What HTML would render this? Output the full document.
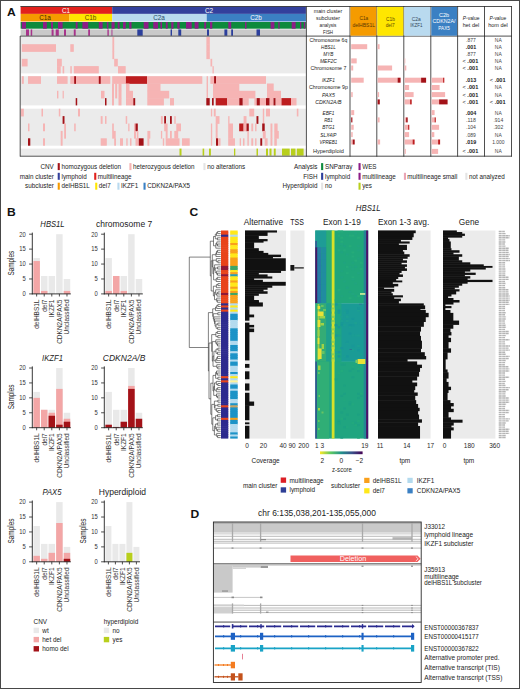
<!DOCTYPE html>
<html><head><meta charset="utf-8"><title>Figure</title>
<style>
html,body{margin:0;padding:0;background:#fff;}
body{width:520px;height:689px;overflow:hidden;position:relative;}
svg{position:absolute;left:0;top:0;display:block;font-family:"Liberation Sans",sans-serif;}
#frame{position:absolute;left:0;top:0;width:518px;height:687px;border:1px solid #484848;}
</style></head><body>
<svg width="520" height="689" viewBox="0 0 520 689" shape-rendering="auto">
<rect x="20.60" y="6.60" width="91.60" height="7.30" fill="#e2211c"/>
<rect x="112.20" y="6.60" width="193.70" height="7.30" fill="#33409c"/>
<rect x="20.60" y="13.90" width="48.90" height="7.60" fill="#f59b00"/>
<rect x="69.50" y="13.90" width="42.70" height="7.60" fill="#ffe600"/>
<rect x="112.20" y="13.90" width="94.50" height="7.60" fill="#b9daef"/>
<rect x="206.70" y="13.90" width="99.20" height="7.60" fill="#3b80c3"/>
<text x="66.00" y="12.50" font-size="6.4" text-anchor="middle" fill="#fff" font-weight="normal" font-style="normal">C1</text>
<text x="209.00" y="12.50" font-size="6.4" text-anchor="middle" fill="#fff" font-weight="normal" font-style="normal">C2</text>
<text x="45.00" y="19.90" font-size="6.4" text-anchor="middle" fill="#3a2a00" font-weight="normal" font-style="normal">C1a</text>
<text x="90.50" y="19.90" font-size="6.4" text-anchor="middle" fill="#5a4a00" font-weight="normal" font-style="normal">C1b</text>
<text x="159.00" y="19.90" font-size="6.4" text-anchor="middle" fill="#2a4a6a" font-weight="normal" font-style="normal">C2a</text>
<text x="256.00" y="19.90" font-size="6.4" text-anchor="middle" fill="#fff" font-weight="normal" font-style="normal">C2b</text>
<rect x="20.60" y="22.00" width="285.30" height="6.70" fill="#0d8a3c"/>
<rect x="21.80" y="22.00" width="4.20" height="6.70" fill="#8c1d87"/>
<rect x="43.00" y="22.00" width="3.80" height="6.70" fill="#8c1d87"/>
<rect x="51.00" y="22.00" width="2.00" height="6.70" fill="#8c1d87"/>
<rect x="58.00" y="22.00" width="4.60" height="6.70" fill="#8c1d87"/>
<rect x="75.70" y="22.00" width="1.90" height="6.70" fill="#8c1d87"/>
<rect x="82.40" y="22.00" width="5.80" height="6.70" fill="#8c1d87"/>
<rect x="98.80" y="22.00" width="3.80" height="6.70" fill="#8c1d87"/>
<rect x="106.80" y="22.00" width="1.60" height="6.70" fill="#8c1d87"/>
<rect x="111.50" y="22.00" width="3.10" height="6.70" fill="#8c1d87"/>
<rect x="117.70" y="22.00" width="1.90" height="6.70" fill="#8c1d87"/>
<rect x="123.00" y="22.00" width="2.80" height="6.70" fill="#8c1d87"/>
<rect x="129.20" y="22.00" width="2.30" height="6.70" fill="#8c1d87"/>
<rect x="143.70" y="22.00" width="4.80" height="6.70" fill="#8c1d87"/>
<rect x="153.30" y="22.00" width="4.70" height="6.70" fill="#8c1d87"/>
<rect x="160.40" y="22.00" width="1.60" height="6.70" fill="#8c1d87"/>
<rect x="165.80" y="22.00" width="1.90" height="6.70" fill="#8c1d87"/>
<rect x="171.20" y="22.00" width="2.30" height="6.70" fill="#8c1d87"/>
<rect x="177.30" y="22.00" width="2.30" height="6.70" fill="#8c1d87"/>
<rect x="186.00" y="22.00" width="5.70" height="6.70" fill="#8c1d87"/>
<rect x="194.60" y="22.00" width="3.90" height="6.70" fill="#8c1d87"/>
<rect x="204.20" y="22.00" width="2.00" height="6.70" fill="#8c1d87"/>
<rect x="210.00" y="22.00" width="2.30" height="6.70" fill="#8c1d87"/>
<rect x="228.30" y="22.00" width="2.90" height="6.70" fill="#8c1d87"/>
<rect x="245.00" y="22.00" width="1.50" height="6.70" fill="#8c1d87"/>
<rect x="270.60" y="22.00" width="3.80" height="6.70" fill="#8c1d87"/>
<rect x="278.30" y="22.00" width="1.30" height="6.70" fill="#8c1d87"/>
<rect x="291.70" y="22.00" width="3.90" height="6.70" fill="#8c1d87"/>
<rect x="300.00" y="22.00" width="1.30" height="6.70" fill="#8c1d87"/>
<rect x="303.80" y="22.00" width="1.40" height="6.70" fill="#8c1d87"/>
<rect x="20.60" y="29.40" width="285.30" height="6.30" fill="#c9c9c9"/>
<rect x="26.00" y="29.40" width="3.00" height="6.30" fill="#a8348c"/>
<rect x="30.70" y="29.40" width="1.50" height="6.30" fill="#a8348c"/>
<rect x="51.60" y="29.40" width="2.00" height="6.30" fill="#a8348c"/>
<rect x="55.70" y="29.40" width="3.10" height="6.30" fill="#a8348c"/>
<rect x="64.00" y="29.40" width="2.00" height="6.30" fill="#a8348c"/>
<rect x="73.80" y="29.40" width="1.90" height="6.30" fill="#a8348c"/>
<rect x="88.20" y="29.40" width="1.80" height="6.30" fill="#a8348c"/>
<rect x="107.40" y="29.40" width="1.40" height="6.30" fill="#a8348c"/>
<rect x="111.50" y="29.40" width="0.90" height="6.30" fill="#a8348c"/>
<rect x="137.30" y="29.40" width="5.40" height="6.30" fill="#2c3f9c"/>
<rect x="170.60" y="29.40" width="1.40" height="6.30" fill="#2c3f9c"/>
<rect x="178.30" y="29.40" width="2.90" height="6.30" fill="#2c3f9c"/>
<rect x="207.00" y="29.40" width="2.00" height="6.30" fill="#2c3f9c"/>
<rect x="224.40" y="29.40" width="2.90" height="6.30" fill="#2c3f9c"/>
<rect x="231.20" y="29.40" width="1.80" height="6.30" fill="#2c3f9c"/>
<rect x="256.50" y="29.40" width="3.50" height="6.30" fill="#2c3f9c"/>
<rect x="20.60" y="36.50" width="285.30" height="36.90" fill="#ebebeb"/>
<rect x="20.60" y="76.20" width="285.30" height="29.20" fill="#ebebeb"/>
<rect x="20.60" y="108.70" width="285.30" height="37.00" fill="#ebebeb"/>
<rect x="20.60" y="148.60" width="285.30" height="7.00" fill="#ebebeb"/>
<rect x="112.40" y="36.90" width="1.80" height="7.65" fill="#f6b4b4"/>
<rect x="206.40" y="36.90" width="3.40" height="7.65" fill="#f6b4b4"/>
<rect x="21.80" y="44.20" width="34.20" height="7.65" fill="#f6b4b4"/>
<rect x="70.30" y="44.20" width="3.50" height="7.65" fill="#f6b4b4"/>
<rect x="112.40" y="44.20" width="1.80" height="7.65" fill="#f6b4b4"/>
<rect x="206.40" y="44.20" width="3.40" height="7.65" fill="#f6b4b4"/>
<rect x="112.40" y="51.50" width="1.80" height="7.65" fill="#f6b4b4"/>
<rect x="206.40" y="51.50" width="3.40" height="7.65" fill="#f6b4b4"/>
<rect x="21.80" y="58.80" width="5.80" height="7.65" fill="#f6b4b4"/>
<rect x="57.00" y="58.80" width="4.80" height="7.65" fill="#f6b4b4"/>
<rect x="114.20" y="58.80" width="3.60" height="7.65" fill="#f6b4b4"/>
<rect x="210.50" y="58.80" width="1.70" height="7.65" fill="#f6b4b4"/>
<rect x="57.00" y="66.10" width="3.70" height="7.30" fill="#f6b4b4"/>
<rect x="62.60" y="66.10" width="1.60" height="7.30" fill="#f6b4b4"/>
<rect x="70.30" y="66.10" width="1.50" height="7.30" fill="#f6b4b4"/>
<rect x="73.80" y="66.10" width="25.00" height="7.30" fill="#f6b4b4"/>
<rect x="118.00" y="66.10" width="7.70" height="7.30" fill="#f6b4b4"/>
<rect x="212.50" y="66.10" width="1.30" height="7.30" fill="#f6b4b4"/>
<rect x="21.80" y="76.20" width="2.00" height="7.65" fill="#f6b4b4"/>
<rect x="28.00" y="76.20" width="13.00" height="7.65" fill="#f6b4b4"/>
<rect x="57.00" y="76.20" width="10.60" height="7.65" fill="#f6b4b4"/>
<rect x="70.30" y="76.20" width="40.00" height="7.65" fill="#f6b4b4"/>
<rect x="74.20" y="76.20" width="1.80" height="7.65" fill="#a31218"/>
<rect x="98.80" y="76.20" width="1.90" height="7.65" fill="#a31218"/>
<rect x="112.20" y="76.20" width="13.70" height="7.65" fill="#f6b4b4"/>
<rect x="125.90" y="76.20" width="21.10" height="7.65" fill="#bd1d1f"/>
<rect x="147.00" y="76.20" width="55.30" height="7.65" fill="#f6b4b4"/>
<rect x="206.60" y="76.20" width="1.40" height="7.65" fill="#f6b4b4"/>
<rect x="210.40" y="76.20" width="55.60" height="7.65" fill="#f6b4b4"/>
<rect x="214.10" y="76.20" width="1.90" height="7.65" fill="#a31218"/>
<rect x="112.00" y="83.50" width="2.00" height="7.65" fill="#f6b4b4"/>
<rect x="115.20" y="83.50" width="2.00" height="7.65" fill="#f6b4b4"/>
<rect x="118.50" y="83.50" width="3.00" height="7.65" fill="#f6b4b4"/>
<rect x="126.00" y="83.50" width="3.50" height="7.65" fill="#f6b4b4"/>
<rect x="147.30" y="83.50" width="13.20" height="7.65" fill="#f6b4b4"/>
<rect x="206.60" y="83.50" width="1.40" height="7.65" fill="#f6b4b4"/>
<rect x="213.00" y="83.50" width="26.30" height="7.65" fill="#f6b4b4"/>
<rect x="267.00" y="83.50" width="6.70" height="7.65" fill="#f6b4b4"/>
<rect x="57.00" y="90.80" width="1.40" height="7.65" fill="#f6b4b4"/>
<rect x="62.60" y="90.80" width="1.20" height="7.65" fill="#f6b4b4"/>
<rect x="101.00" y="90.80" width="3.50" height="7.65" fill="#f6b4b4"/>
<rect x="112.00" y="90.80" width="2.00" height="7.65" fill="#f6b4b4"/>
<rect x="115.20" y="90.80" width="2.00" height="7.65" fill="#f6b4b4"/>
<rect x="118.50" y="90.80" width="3.00" height="7.65" fill="#f6b4b4"/>
<rect x="126.00" y="90.80" width="7.00" height="7.65" fill="#f6b4b4"/>
<rect x="147.30" y="90.80" width="21.90" height="7.65" fill="#f6b4b4"/>
<rect x="206.60" y="90.80" width="1.40" height="7.65" fill="#f6b4b4"/>
<rect x="213.00" y="90.80" width="42.40" height="7.65" fill="#f6b4b4"/>
<rect x="267.00" y="90.80" width="14.00" height="7.65" fill="#f6b4b4"/>
<rect x="75.70" y="98.10" width="1.50" height="7.30" fill="#a31218"/>
<rect x="105.00" y="98.10" width="1.50" height="7.30" fill="#a31218"/>
<rect x="112.00" y="98.10" width="2.00" height="7.30" fill="#f6b4b4"/>
<rect x="118.50" y="98.10" width="3.00" height="7.30" fill="#f6b4b4"/>
<rect x="126.00" y="98.10" width="7.30" height="7.30" fill="#f6b4b4"/>
<rect x="133.30" y="98.10" width="1.90" height="7.30" fill="#a31218"/>
<rect x="147.30" y="98.10" width="16.60" height="7.30" fill="#f6b4b4"/>
<rect x="170.00" y="98.10" width="4.00" height="7.30" fill="#f6b4b4"/>
<rect x="206.30" y="98.10" width="3.40" height="7.30" fill="#a31218"/>
<rect x="212.00" y="98.10" width="1.70" height="7.30" fill="#a31218"/>
<rect x="215.70" y="98.10" width="11.50" height="7.30" fill="#bd1d1f"/>
<rect x="227.20" y="98.10" width="12.10" height="7.30" fill="#f6b4b4"/>
<rect x="239.30" y="98.10" width="3.50" height="7.30" fill="#a31218"/>
<rect x="242.80" y="98.10" width="5.90" height="7.30" fill="#f6b4b4"/>
<rect x="254.40" y="98.10" width="2.30" height="7.30" fill="#f6b4b4"/>
<rect x="256.70" y="98.10" width="3.20" height="7.30" fill="#a31218"/>
<rect x="259.90" y="98.10" width="6.10" height="7.30" fill="#f6b4b4"/>
<rect x="266.00" y="98.10" width="3.70" height="7.30" fill="#a31218"/>
<rect x="269.70" y="98.10" width="3.80" height="7.30" fill="#f6b4b4"/>
<rect x="273.50" y="98.10" width="2.20" height="7.30" fill="#a31218"/>
<rect x="275.70" y="98.10" width="5.80" height="7.30" fill="#f6b4b4"/>
<rect x="281.50" y="98.10" width="9.50" height="7.30" fill="#bd1d1f"/>
<rect x="291.00" y="98.10" width="5.50" height="7.30" fill="#f6b4b4"/>
<rect x="20.90" y="108.70" width="2.90" height="7.75" fill="#f6b4b4"/>
<rect x="41.50" y="108.70" width="1.50" height="7.75" fill="#f6b4b4"/>
<rect x="58.80" y="108.70" width="1.50" height="7.75" fill="#f6b4b4"/>
<rect x="78.00" y="108.70" width="2.00" height="7.75" fill="#f6b4b4"/>
<rect x="210.90" y="108.70" width="1.30" height="7.75" fill="#f6b4b4"/>
<rect x="213.80" y="108.70" width="1.90" height="7.75" fill="#f6b4b4"/>
<rect x="249.30" y="108.70" width="4.90" height="7.75" fill="#f6b4b4"/>
<rect x="262.80" y="108.70" width="1.40" height="7.75" fill="#f6b4b4"/>
<rect x="266.00" y="108.70" width="4.00" height="7.75" fill="#f6b4b4"/>
<rect x="296.80" y="108.70" width="1.60" height="7.75" fill="#f6b4b4"/>
<rect x="62.60" y="116.10" width="1.90" height="7.75" fill="#a31218"/>
<rect x="100.70" y="116.10" width="1.90" height="7.75" fill="#f6b4b4"/>
<rect x="105.00" y="116.10" width="1.50" height="7.75" fill="#f6b4b4"/>
<rect x="125.70" y="116.10" width="1.50" height="7.75" fill="#f6b4b4"/>
<rect x="160.90" y="116.10" width="1.90" height="7.75" fill="#f6b4b4"/>
<rect x="164.20" y="116.10" width="1.80" height="7.75" fill="#a31218"/>
<rect x="170.00" y="116.10" width="1.80" height="7.75" fill="#a31218"/>
<rect x="174.30" y="116.10" width="1.40" height="7.75" fill="#f6b4b4"/>
<rect x="215.70" y="116.10" width="3.80" height="7.75" fill="#f6b4b4"/>
<rect x="228.20" y="116.10" width="1.30" height="7.75" fill="#f6b4b4"/>
<rect x="243.60" y="116.10" width="2.90" height="7.75" fill="#f6b4b4"/>
<rect x="256.50" y="116.10" width="1.90" height="7.75" fill="#a31218"/>
<rect x="262.80" y="116.10" width="1.40" height="7.75" fill="#f6b4b4"/>
<rect x="28.00" y="123.50" width="1.50" height="7.75" fill="#f6b4b4"/>
<rect x="43.00" y="123.50" width="2.00" height="7.75" fill="#f6b4b4"/>
<rect x="64.20" y="123.50" width="1.80" height="7.75" fill="#f6b4b4"/>
<rect x="74.20" y="123.50" width="1.50" height="7.75" fill="#f6b4b4"/>
<rect x="112.20" y="123.50" width="1.60" height="7.75" fill="#f6b4b4"/>
<rect x="128.20" y="123.50" width="1.30" height="7.75" fill="#f6b4b4"/>
<rect x="134.00" y="123.50" width="1.50" height="7.75" fill="#f6b4b4"/>
<rect x="135.50" y="123.50" width="2.30" height="7.75" fill="#a31218"/>
<rect x="164.20" y="123.50" width="3.40" height="7.75" fill="#f6b4b4"/>
<rect x="176.30" y="123.50" width="4.70" height="7.75" fill="#f6b4b4"/>
<rect x="210.90" y="123.50" width="1.30" height="7.75" fill="#f6b4b4"/>
<rect x="215.70" y="123.50" width="1.90" height="7.75" fill="#f6b4b4"/>
<rect x="228.20" y="123.50" width="4.80" height="7.75" fill="#f6b4b4"/>
<rect x="239.20" y="123.50" width="4.40" height="7.75" fill="#bd1d1f"/>
<rect x="243.60" y="123.50" width="2.90" height="7.75" fill="#f6b4b4"/>
<rect x="246.50" y="123.50" width="2.30" height="7.75" fill="#a31218"/>
<rect x="251.30" y="123.50" width="1.90" height="7.75" fill="#f6b4b4"/>
<rect x="255.10" y="123.50" width="1.40" height="7.75" fill="#f6b4b4"/>
<rect x="262.20" y="123.50" width="2.50" height="7.75" fill="#a31218"/>
<rect x="270.50" y="123.50" width="1.90" height="7.75" fill="#f6b4b4"/>
<rect x="274.30" y="123.50" width="3.30" height="7.75" fill="#f6b4b4"/>
<rect x="60.70" y="130.90" width="1.90" height="7.75" fill="#f6b4b4"/>
<rect x="64.20" y="130.90" width="1.80" height="7.75" fill="#f6b4b4"/>
<rect x="112.20" y="130.90" width="3.50" height="7.75" fill="#f6b4b4"/>
<rect x="134.00" y="130.90" width="2.00" height="7.75" fill="#f6b4b4"/>
<rect x="136.80" y="130.90" width="1.60" height="7.75" fill="#f6b4b4"/>
<rect x="147.40" y="130.90" width="2.90" height="7.75" fill="#f6b4b4"/>
<rect x="160.90" y="130.90" width="1.30" height="7.75" fill="#f6b4b4"/>
<rect x="165.70" y="130.90" width="1.90" height="7.75" fill="#f6b4b4"/>
<rect x="170.00" y="130.90" width="1.80" height="7.75" fill="#f6b4b4"/>
<rect x="174.30" y="130.90" width="3.90" height="7.75" fill="#f6b4b4"/>
<rect x="210.90" y="130.90" width="1.30" height="7.75" fill="#f6b4b4"/>
<rect x="215.70" y="130.90" width="1.90" height="7.75" fill="#f6b4b4"/>
<rect x="228.20" y="130.90" width="4.80" height="7.75" fill="#f6b4b4"/>
<rect x="247.40" y="130.90" width="1.40" height="7.75" fill="#f6b4b4"/>
<rect x="262.80" y="130.90" width="2.90" height="7.75" fill="#f6b4b4"/>
<rect x="270.50" y="130.90" width="1.90" height="7.75" fill="#f6b4b4"/>
<rect x="274.30" y="130.90" width="4.50" height="7.75" fill="#f6b4b4"/>
<rect x="28.00" y="138.30" width="2.30" height="7.40" fill="#a31218"/>
<rect x="43.00" y="138.30" width="2.00" height="7.40" fill="#f6b4b4"/>
<rect x="60.70" y="138.30" width="1.90" height="7.40" fill="#f6b4b4"/>
<rect x="100.70" y="138.30" width="6.10" height="7.40" fill="#f6b4b4"/>
<rect x="114.20" y="138.30" width="1.80" height="7.40" fill="#f6b4b4"/>
<rect x="120.00" y="138.30" width="3.00" height="7.40" fill="#f6b4b4"/>
<rect x="126.30" y="138.30" width="1.30" height="7.40" fill="#f6b4b4"/>
<rect x="130.00" y="138.30" width="1.50" height="7.40" fill="#f6b4b4"/>
<rect x="135.50" y="138.30" width="3.30" height="7.40" fill="#f6b4b4"/>
<rect x="138.80" y="138.30" width="4.80" height="7.40" fill="#a31218"/>
<rect x="147.40" y="138.30" width="1.90" height="7.40" fill="#f6b4b4"/>
<rect x="162.80" y="138.30" width="1.40" height="7.40" fill="#f6b4b4"/>
<rect x="165.70" y="138.30" width="13.80" height="7.40" fill="#f6b4b4"/>
<rect x="182.00" y="138.30" width="7.70" height="7.40" fill="#f6b4b4"/>
<rect x="210.90" y="138.30" width="1.30" height="7.40" fill="#f6b4b4"/>
<rect x="216.00" y="138.30" width="2.00" height="7.40" fill="#a31218"/>
<rect x="218.00" y="138.30" width="2.50" height="7.40" fill="#f6b4b4"/>
<rect x="228.20" y="138.30" width="6.80" height="7.40" fill="#f6b4b4"/>
<rect x="239.70" y="138.30" width="1.30" height="7.40" fill="#f6b4b4"/>
<rect x="243.00" y="138.30" width="1.50" height="7.40" fill="#f6b4b4"/>
<rect x="247.40" y="138.30" width="1.40" height="7.40" fill="#f6b4b4"/>
<rect x="251.30" y="138.30" width="1.90" height="7.40" fill="#f6b4b4"/>
<rect x="255.10" y="138.30" width="1.40" height="7.40" fill="#f6b4b4"/>
<rect x="260.30" y="138.30" width="1.90" height="7.40" fill="#a31218"/>
<rect x="264.70" y="138.30" width="2.90" height="7.40" fill="#f6b4b4"/>
<rect x="270.50" y="138.30" width="1.90" height="7.40" fill="#f6b4b4"/>
<rect x="274.30" y="138.30" width="2.50" height="7.40" fill="#f6b4b4"/>
<rect x="179.50" y="148.60" width="2.00" height="7.00" fill="#b8cf1c"/>
<rect x="202.60" y="148.60" width="1.60" height="7.00" fill="#b8cf1c"/>
<rect x="209.00" y="148.60" width="1.90" height="7.00" fill="#b8cf1c"/>
<rect x="234.00" y="148.60" width="1.30" height="7.00" fill="#b8cf1c"/>
<rect x="256.50" y="148.60" width="1.50" height="7.00" fill="#b8cf1c"/>
<rect x="266.00" y="148.60" width="2.00" height="7.00" fill="#b8cf1c"/>
<rect x="269.50" y="148.60" width="2.00" height="7.00" fill="#b8cf1c"/>
<rect x="273.80" y="148.60" width="1.90" height="7.00" fill="#b8cf1c"/>
<rect x="282.00" y="148.60" width="7.70" height="7.00" fill="#b8cf1c"/>
<rect x="291.00" y="148.60" width="4.50" height="7.00" fill="#b8cf1c"/>
<rect x="296.80" y="148.60" width="6.80" height="7.00" fill="#b8cf1c"/>
<line x1="20.20" y1="36.10" x2="511.90" y2="36.10" stroke="#222" stroke-width="0.8"/>
<line x1="20.20" y1="156.20" x2="511.90" y2="156.20" stroke="#222" stroke-width="0.8"/>
<line x1="20.20" y1="36.00" x2="20.20" y2="156.60" stroke="#222" stroke-width="0.8"/>
<line x1="306.40" y1="6.20" x2="306.40" y2="156.60" stroke="#222" stroke-width="0.8"/>
<line x1="350.00" y1="6.20" x2="350.00" y2="156.60" stroke="#222" stroke-width="0.8"/>
<line x1="376.80" y1="6.20" x2="376.80" y2="156.60" stroke="#222" stroke-width="0.8"/>
<line x1="403.80" y1="6.20" x2="403.80" y2="156.60" stroke="#222" stroke-width="0.8"/>
<line x1="430.80" y1="6.20" x2="430.80" y2="156.60" stroke="#222" stroke-width="0.8"/>
<line x1="457.60" y1="6.20" x2="457.60" y2="156.60" stroke="#222" stroke-width="0.8"/>
<line x1="484.50" y1="6.20" x2="484.50" y2="156.60" stroke="#222" stroke-width="0.8"/>
<line x1="511.50" y1="6.20" x2="511.50" y2="156.60" stroke="#222" stroke-width="0.8"/>
<line x1="20.40" y1="6.50" x2="511.90" y2="6.50" stroke="#222" stroke-width="0.8"/>
<rect x="350.40" y="6.90" width="26.00" height="28.80" fill="#f59b00"/>
<rect x="377.30" y="6.90" width="26.00" height="28.80" fill="#ffe600"/>
<rect x="404.30" y="6.90" width="26.00" height="28.80" fill="#b9daef"/>
<rect x="431.30" y="6.90" width="25.80" height="28.80" fill="#3b80c3"/>
<text x="313.80" y="13.36" font-size="6.0" text-anchor="start" fill="#222" font-weight="normal" font-style="normal" textLength="28.4" lengthAdjust="spacingAndGlyphs">main cluster</text>
<text x="316.10" y="20.36" font-size="6.0" text-anchor="start" fill="#222" font-weight="normal" font-style="normal" textLength="23.8" lengthAdjust="spacingAndGlyphs">subcluster</text>
<text x="319.55" y="26.66" font-size="6.0" text-anchor="start" fill="#222" font-weight="normal" font-style="normal" textLength="16.9" lengthAdjust="spacingAndGlyphs">analysis</text>
<text x="323.00" y="33.56" font-size="6.0" text-anchor="start" fill="#222" font-weight="normal" font-style="normal" textLength="10" lengthAdjust="spacingAndGlyphs">FISH</text>
<text x="359.50" y="20.36" font-size="6.0" text-anchor="start" fill="#5a3800" font-weight="normal" font-style="normal" textLength="8.6" lengthAdjust="spacingAndGlyphs">C1a</text>
<text x="352.40" y="26.56" font-size="6.0" text-anchor="start" fill="#5a3800" font-weight="normal" font-style="normal" textLength="22.6" lengthAdjust="spacingAndGlyphs">delHBS1L</text>
<text x="386.10" y="20.56" font-size="6.0" text-anchor="start" fill="#5a4a00" font-weight="normal" font-style="normal" textLength="8.8" lengthAdjust="spacingAndGlyphs">C1b</text>
<text x="385.70" y="26.56" font-size="6.0" text-anchor="start" fill="#5a4a00" font-weight="normal" font-style="normal" textLength="9" lengthAdjust="spacingAndGlyphs">del7</text>
<text x="411.80" y="20.56" font-size="6.0" text-anchor="start" fill="#33485c" font-weight="normal" font-style="normal" textLength="9" lengthAdjust="spacingAndGlyphs">C2a</text>
<text x="410.15" y="26.56" font-size="6.0" text-anchor="start" fill="#33485c" font-weight="normal" font-style="normal" textLength="12.3" lengthAdjust="spacingAndGlyphs">IKZF1</text>
<text x="438.90" y="17.26" font-size="6.0" text-anchor="start" fill="#fff" font-weight="normal" font-style="normal" textLength="10.2" lengthAdjust="spacingAndGlyphs">C2b</text>
<text x="432.55" y="23.36" font-size="6.0" text-anchor="start" fill="#fff" font-weight="normal" font-style="normal" textLength="22.9" lengthAdjust="spacingAndGlyphs">CDKN2A/</text>
<text x="438.35" y="29.86" font-size="6.0" text-anchor="start" fill="#fff" font-weight="normal" font-style="normal" textLength="11.5" lengthAdjust="spacingAndGlyphs">PAX5</text>
<text x="462.75" y="20.26" font-size="6.0" text-anchor="start" fill="#222" textLength="16.7" lengthAdjust="spacingAndGlyphs"><tspan font-style="italic">P</tspan>-value</text>
<text x="462.80" y="26.66" font-size="6.0" text-anchor="start" fill="#222" font-weight="normal" font-style="normal" textLength="16.4" lengthAdjust="spacingAndGlyphs">het del</text>
<text x="489.45" y="20.26" font-size="6.0" text-anchor="start" fill="#222" textLength="16.7" lengthAdjust="spacingAndGlyphs"><tspan font-style="italic">P</tspan>-value</text>
<text x="488.20" y="26.66" font-size="6.0" text-anchor="start" fill="#222" font-weight="normal" font-style="normal" textLength="19.6" lengthAdjust="spacingAndGlyphs">hom del</text>
<text x="309.55" y="41.66" font-size="6.0" text-anchor="start" fill="#222" font-weight="normal" font-style="normal" textLength="37.7" lengthAdjust="spacingAndGlyphs">Chromosome 6q</text>
<text x="321.10" y="48.66" font-size="6.0" text-anchor="start" fill="#222" font-weight="normal" font-style="italic" textLength="14.6" lengthAdjust="spacingAndGlyphs">HBS1L</text>
<text x="323.25" y="55.76" font-size="6.0" text-anchor="start" fill="#222" font-weight="normal" font-style="italic" textLength="10.3" lengthAdjust="spacingAndGlyphs">MYB</text>
<text x="319.95" y="62.86" font-size="6.0" text-anchor="start" fill="#222" font-weight="normal" font-style="italic" textLength="16.9" lengthAdjust="spacingAndGlyphs">MEF2C</text>
<text x="310.50" y="69.96" font-size="6.0" text-anchor="start" fill="#222" font-weight="normal" font-style="normal" textLength="35.8" lengthAdjust="spacingAndGlyphs">Chromosome 7</text>
<text x="321.90" y="82.16" font-size="6.0" text-anchor="start" fill="#222" font-weight="normal" font-style="italic" textLength="13" lengthAdjust="spacingAndGlyphs">IKZF1</text>
<text x="308.90" y="89.46" font-size="6.0" text-anchor="start" fill="#222" font-weight="normal" font-style="normal" textLength="39" lengthAdjust="spacingAndGlyphs">Chromosome 9p</text>
<text x="321.90" y="96.56" font-size="6.0" text-anchor="start" fill="#222" font-weight="normal" font-style="italic" textLength="13" lengthAdjust="spacingAndGlyphs">PAX5</text>
<text x="315.15" y="103.86" font-size="6.0" text-anchor="start" fill="#222" font-weight="normal" font-style="italic" textLength="26.5" lengthAdjust="spacingAndGlyphs">CDKN2A/B</text>
<text x="322.50" y="114.56" font-size="6.0" text-anchor="start" fill="#222" font-weight="normal" font-style="italic" textLength="11.8" lengthAdjust="spacingAndGlyphs">EBF1</text>
<text x="324.25" y="121.86" font-size="6.0" text-anchor="start" fill="#222" font-weight="normal" font-style="italic" textLength="8.3" lengthAdjust="spacingAndGlyphs">RB1</text>
<text x="322.15" y="129.26" font-size="6.0" text-anchor="start" fill="#222" font-weight="normal" font-style="italic" textLength="12.5" lengthAdjust="spacingAndGlyphs">BTG1</text>
<text x="320.25" y="136.56" font-size="6.0" text-anchor="start" fill="#222" font-weight="normal" font-style="italic" textLength="16.3" lengthAdjust="spacingAndGlyphs">SLX4IP</text>
<text x="319.40" y="143.96" font-size="6.0" text-anchor="start" fill="#222" font-weight="normal" font-style="italic" textLength="18" lengthAdjust="spacingAndGlyphs">VPREB1</text>
<text x="313.00" y="153.36" font-size="6.0" text-anchor="start" fill="#222" font-weight="normal" font-style="normal" textLength="30.8" lengthAdjust="spacingAndGlyphs">Hyperdiploid</text>
<text x="466.10" y="41.66" font-size="6.0" text-anchor="start" fill="#444" font-weight="normal" font-style="normal" textLength="9.8" lengthAdjust="spacingAndGlyphs">.877</text>
<text x="494.80" y="41.66" font-size="6.0" text-anchor="start" fill="#444" font-weight="normal" font-style="normal" textLength="7" lengthAdjust="spacingAndGlyphs">NA</text>
<text x="465.75" y="48.66" font-size="6.0" text-anchor="start" fill="#222" font-weight="bold" font-style="normal" textLength="10.5" lengthAdjust="spacingAndGlyphs">.001</text>
<text x="494.80" y="48.66" font-size="6.0" text-anchor="start" fill="#444" font-weight="normal" font-style="normal" textLength="7" lengthAdjust="spacingAndGlyphs">NA</text>
<text x="466.10" y="55.76" font-size="6.0" text-anchor="start" fill="#444" font-weight="normal" font-style="normal" textLength="9.8" lengthAdjust="spacingAndGlyphs">.877</text>
<text x="494.80" y="55.76" font-size="6.0" text-anchor="start" fill="#444" font-weight="normal" font-style="normal" textLength="7" lengthAdjust="spacingAndGlyphs">NA</text>
<text x="462.54999999999995" y="62.86" font-size="6.0" text-anchor="start" fill="#222" textLength="15.7" lengthAdjust="spacingAndGlyphs">&lt; <tspan font-weight="bold">.001</tspan></text>
<text x="494.80" y="62.86" font-size="6.0" text-anchor="start" fill="#444" font-weight="normal" font-style="normal" textLength="7" lengthAdjust="spacingAndGlyphs">NA</text>
<text x="462.54999999999995" y="69.96" font-size="6.0" text-anchor="start" fill="#222" textLength="15.7" lengthAdjust="spacingAndGlyphs">&lt; <tspan font-weight="bold">.001</tspan></text>
<text x="494.80" y="69.96" font-size="6.0" text-anchor="start" fill="#444" font-weight="normal" font-style="normal" textLength="7" lengthAdjust="spacingAndGlyphs">NA</text>
<text x="465.75" y="82.16" font-size="6.0" text-anchor="start" fill="#222" font-weight="bold" font-style="normal" textLength="10.5" lengthAdjust="spacingAndGlyphs">.013</text>
<text x="489.84999999999997" y="82.16" font-size="6.0" text-anchor="start" fill="#222" textLength="15.7" lengthAdjust="spacingAndGlyphs">&lt; <tspan font-weight="bold">.001</tspan></text>
<text x="462.54999999999995" y="89.46" font-size="6.0" text-anchor="start" fill="#222" textLength="15.7" lengthAdjust="spacingAndGlyphs">&lt; <tspan font-weight="bold">.001</tspan></text>
<text x="494.80" y="89.46" font-size="6.0" text-anchor="start" fill="#444" font-weight="normal" font-style="normal" textLength="7" lengthAdjust="spacingAndGlyphs">NA</text>
<text x="462.54999999999995" y="96.56" font-size="6.0" text-anchor="start" fill="#222" textLength="15.7" lengthAdjust="spacingAndGlyphs">&lt; <tspan font-weight="bold">.001</tspan></text>
<text x="494.80" y="96.56" font-size="6.0" text-anchor="start" fill="#444" font-weight="normal" font-style="normal" textLength="7" lengthAdjust="spacingAndGlyphs">NA</text>
<text x="462.54999999999995" y="103.86" font-size="6.0" text-anchor="start" fill="#222" textLength="15.7" lengthAdjust="spacingAndGlyphs">&lt; <tspan font-weight="bold">.001</tspan></text>
<text x="489.84999999999997" y="103.86" font-size="6.0" text-anchor="start" fill="#222" textLength="15.7" lengthAdjust="spacingAndGlyphs">&lt; <tspan font-weight="bold">.001</tspan></text>
<text x="465.75" y="114.56" font-size="6.0" text-anchor="start" fill="#222" font-weight="bold" font-style="normal" textLength="10.5" lengthAdjust="spacingAndGlyphs">.004</text>
<text x="494.80" y="114.56" font-size="6.0" text-anchor="start" fill="#444" font-weight="normal" font-style="normal" textLength="7" lengthAdjust="spacingAndGlyphs">NA</text>
<text x="466.10" y="121.86" font-size="6.0" text-anchor="start" fill="#444" font-weight="normal" font-style="normal" textLength="9.8" lengthAdjust="spacingAndGlyphs">.118</text>
<text x="493.40" y="121.86" font-size="6.0" text-anchor="start" fill="#444" font-weight="normal" font-style="normal" textLength="9.8" lengthAdjust="spacingAndGlyphs">.914</text>
<text x="466.10" y="129.26" font-size="6.0" text-anchor="start" fill="#444" font-weight="normal" font-style="normal" textLength="9.8" lengthAdjust="spacingAndGlyphs">.104</text>
<text x="493.40" y="129.26" font-size="6.0" text-anchor="start" fill="#444" font-weight="normal" font-style="normal" textLength="9.8" lengthAdjust="spacingAndGlyphs">.302</text>
<text x="466.10" y="136.56" font-size="6.0" text-anchor="start" fill="#444" font-weight="normal" font-style="normal" textLength="9.8" lengthAdjust="spacingAndGlyphs">.089</text>
<text x="494.80" y="136.56" font-size="6.0" text-anchor="start" fill="#444" font-weight="normal" font-style="normal" textLength="7" lengthAdjust="spacingAndGlyphs">NA</text>
<text x="465.75" y="143.96" font-size="6.0" text-anchor="start" fill="#222" font-weight="bold" font-style="normal" textLength="10.5" lengthAdjust="spacingAndGlyphs">.019</text>
<text x="492.15" y="143.96" font-size="6.0" text-anchor="start" fill="#444" font-weight="normal" font-style="normal" textLength="12.3" lengthAdjust="spacingAndGlyphs">1.000</text>
<text x="462.54999999999995" y="153.36" font-size="6.0" text-anchor="start" fill="#222" textLength="15.7" lengthAdjust="spacingAndGlyphs">&lt; <tspan font-weight="bold">.001</tspan></text>
<text x="494.80" y="153.36" font-size="6.0" text-anchor="start" fill="#444" font-weight="normal" font-style="normal" textLength="7" lengthAdjust="spacingAndGlyphs">NA</text>
<rect x="351.20" y="44.20" width="16.00" height="5.00" fill="#f6b4b4"/>
<rect x="377.60" y="44.20" width="2.00" height="5.00" fill="#f6b4b4"/>
<rect x="351.20" y="58.40" width="5.50" height="5.00" fill="#f6b4b4"/>
<rect x="404.60" y="58.40" width="0.70" height="5.00" fill="#f6b4b4"/>
<rect x="351.20" y="65.50" width="2.00" height="5.00" fill="#f6b4b4"/>
<rect x="377.60" y="65.50" width="14.50" height="5.00" fill="#f6b4b4"/>
<rect x="404.60" y="65.50" width="1.70" height="5.00" fill="#f6b4b4"/>
<rect x="351.20" y="77.70" width="12.50" height="5.00" fill="#f6b4b4"/>
<rect x="377.60" y="77.70" width="20.00" height="5.00" fill="#f6b4b4"/>
<rect x="397.60" y="77.70" width="3.00" height="5.00" fill="#a31218"/>
<rect x="404.60" y="77.70" width="16.50" height="5.00" fill="#f6b4b4"/>
<rect x="421.10" y="77.70" width="5.00" height="5.00" fill="#a31218"/>
<rect x="431.60" y="77.70" width="11.50" height="5.00" fill="#f6b4b4"/>
<rect x="443.10" y="77.70" width="1.20" height="5.00" fill="#bd1d1f"/>
<rect x="404.60" y="85.00" width="4.50" height="5.00" fill="#f6b4b4"/>
<rect x="431.60" y="85.00" width="8.00" height="5.00" fill="#f6b4b4"/>
<rect x="351.20" y="92.10" width="1.50" height="5.00" fill="#f6b4b4"/>
<rect x="377.60" y="92.10" width="1.50" height="5.00" fill="#f6b4b4"/>
<rect x="404.60" y="92.10" width="9.00" height="5.00" fill="#f6b4b4"/>
<rect x="431.60" y="92.10" width="13.50" height="5.00" fill="#f6b4b4"/>
<rect x="377.60" y="99.40" width="2.20" height="5.00" fill="#a31218"/>
<rect x="404.60" y="99.40" width="5.50" height="5.00" fill="#f6b4b4"/>
<rect x="410.10" y="99.40" width="1.60" height="5.00" fill="#bd1d1f"/>
<rect x="431.60" y="99.40" width="7.50" height="5.00" fill="#f6b4b4"/>
<rect x="439.10" y="99.40" width="8.50" height="5.00" fill="#a31218"/>
<rect x="351.20" y="110.10" width="3.00" height="5.00" fill="#f6b4b4"/>
<rect x="431.60" y="110.10" width="3.00" height="5.00" fill="#f6b4b4"/>
<rect x="351.20" y="117.40" width="1.20" height="5.00" fill="#a31218"/>
<rect x="377.60" y="117.40" width="2.00" height="5.00" fill="#f6b4b4"/>
<rect x="404.60" y="117.40" width="1.50" height="5.00" fill="#f6b4b4"/>
<rect x="406.10" y="117.40" width="1.60" height="5.00" fill="#a31218"/>
<rect x="431.60" y="117.40" width="3.00" height="5.00" fill="#f6b4b4"/>
<rect x="434.60" y="117.40" width="1.20" height="5.00" fill="#bd1d1f"/>
<rect x="351.20" y="124.80" width="2.50" height="5.00" fill="#f6b4b4"/>
<rect x="404.60" y="124.80" width="3.50" height="5.00" fill="#f6b4b4"/>
<rect x="408.10" y="124.80" width="1.20" height="5.00" fill="#bd1d1f"/>
<rect x="431.60" y="124.80" width="7.50" height="5.00" fill="#f6b4b4"/>
<rect x="351.20" y="132.10" width="1.50" height="5.00" fill="#f6b4b4"/>
<rect x="404.60" y="132.10" width="4.50" height="5.00" fill="#f6b4b4"/>
<rect x="431.60" y="132.10" width="2.70" height="5.00" fill="#f6b4b4"/>
<rect x="351.20" y="139.50" width="1.50" height="5.00" fill="#f6b4b4"/>
<rect x="352.70" y="139.50" width="2.00" height="5.00" fill="#a31218"/>
<rect x="377.60" y="139.50" width="2.50" height="5.00" fill="#f6b4b4"/>
<rect x="404.60" y="139.50" width="8.00" height="5.00" fill="#f6b4b4"/>
<rect x="412.60" y="139.50" width="2.00" height="5.00" fill="#bd1d1f"/>
<rect x="431.60" y="139.50" width="6.50" height="5.00" fill="#f6b4b4"/>
<rect x="438.10" y="139.50" width="2.00" height="5.00" fill="#bd1d1f"/>
<rect x="404.60" y="148.90" width="1.20" height="5.00" fill="#f6b4b4"/>
<rect x="431.60" y="148.90" width="6.50" height="5.00" fill="#f6b4b4"/>
<text x="53.80" y="168.87" font-size="6.3" text-anchor="end" fill="#222" font-weight="normal" font-style="normal">CNV</text>
<text x="53.80" y="178.57" font-size="6.3" text-anchor="end" fill="#222" font-weight="normal" font-style="normal">main cluster</text>
<text x="53.80" y="188.47" font-size="6.3" text-anchor="end" fill="#222" font-weight="normal" font-style="normal">subcluster</text>
<rect x="57.70" y="163.10" width="2.10" height="7.00" fill="#a31218"/>
<text x="61.50" y="168.87" font-size="6.3" text-anchor="start" fill="#222" font-weight="normal" font-style="normal">homozygous deletion</text>
<rect x="129.40" y="163.10" width="2.10" height="7.00" fill="#f6b4b4"/>
<text x="133.00" y="168.87" font-size="6.3" text-anchor="start" fill="#222" font-weight="normal" font-style="normal">heterozygous deletion</text>
<rect x="203.40" y="163.10" width="2.10" height="7.00" fill="#e4e4e4"/>
<text x="207.30" y="168.87" font-size="6.3" text-anchor="start" fill="#222" font-weight="normal" font-style="normal">no alterations</text>
<rect x="57.70" y="172.80" width="2.10" height="7.00" fill="#33409c"/>
<text x="61.50" y="178.57" font-size="6.3" text-anchor="start" fill="#222" font-weight="normal" font-style="normal">lymphoid</text>
<rect x="94.20" y="172.80" width="2.10" height="7.00" fill="#e2211c"/>
<text x="97.80" y="178.57" font-size="6.3" text-anchor="start" fill="#222" font-weight="normal" font-style="normal">multilineage</text>
<rect x="57.70" y="182.70" width="2.10" height="7.00" fill="#f59b00"/>
<text x="61.50" y="188.47" font-size="6.3" text-anchor="start" fill="#222" font-weight="normal" font-style="normal">delHBS1L</text>
<rect x="95.20" y="182.70" width="2.10" height="7.00" fill="#ffe600"/>
<text x="98.80" y="188.47" font-size="6.3" text-anchor="start" fill="#222" font-weight="normal" font-style="normal">del7</text>
<rect x="117.40" y="182.70" width="2.10" height="7.00" fill="#b9daef"/>
<text x="121.00" y="188.47" font-size="6.3" text-anchor="start" fill="#222" font-weight="normal" font-style="normal">IKZF1</text>
<rect x="143.50" y="182.70" width="2.10" height="7.00" fill="#3b80c3"/>
<text x="147.20" y="188.47" font-size="6.3" text-anchor="start" fill="#222" font-weight="normal" font-style="normal">CDKN2A/PAX5</text>
<text x="317.50" y="168.87" font-size="6.3" text-anchor="end" fill="#222" font-weight="normal" font-style="normal">Analysis</text>
<text x="317.50" y="178.57" font-size="6.3" text-anchor="end" fill="#222" font-weight="normal" font-style="normal">FISH</text>
<text x="317.50" y="188.47" font-size="6.3" text-anchor="end" fill="#222" font-weight="normal" font-style="normal">Hyperdiploid</text>
<rect x="321.10" y="163.10" width="2.10" height="7.00" fill="#0d8a3c"/>
<text x="325.00" y="168.87" font-size="6.3" text-anchor="start" fill="#222" font-weight="normal" font-style="normal">SNParray</text>
<rect x="358.50" y="163.10" width="2.10" height="7.00" fill="#8c1d87"/>
<text x="362.20" y="168.87" font-size="6.3" text-anchor="start" fill="#222" font-weight="normal" font-style="normal">WES</text>
<rect x="321.10" y="172.80" width="2.10" height="7.00" fill="#2c3f9c"/>
<text x="325.00" y="178.57" font-size="6.3" text-anchor="start" fill="#222" font-weight="normal" font-style="normal">lymphoid</text>
<rect x="358.50" y="172.80" width="2.10" height="7.00" fill="#8c1d87"/>
<text x="362.20" y="178.57" font-size="6.3" text-anchor="start" fill="#222" font-weight="normal" font-style="normal">multilineage</text>
<rect x="403.90" y="172.80" width="2.10" height="7.00" fill="#eaa5b5"/>
<text x="407.30" y="178.57" font-size="6.3" text-anchor="start" fill="#222" font-weight="normal" font-style="normal">multilineage small</text>
<rect x="465.30" y="172.80" width="2.10" height="7.00" fill="#e4e4e4"/>
<text x="469.00" y="178.57" font-size="6.3" text-anchor="start" fill="#222" font-weight="normal" font-style="normal">not analyzed</text>
<rect x="321.10" y="182.70" width="2.10" height="7.00" fill="#e4e4e4"/>
<text x="325.00" y="188.47" font-size="6.3" text-anchor="start" fill="#222" font-weight="normal" font-style="normal">no</text>
<rect x="358.50" y="182.70" width="2.10" height="7.00" fill="#b8cf1c"/>
<text x="362.20" y="188.47" font-size="6.3" text-anchor="start" fill="#222" font-weight="normal" font-style="normal">yes</text>
<text x="7.00" y="15.96" font-size="11" text-anchor="start" fill="#111" font-weight="bold" font-style="normal" transform="translate(7.00 0) scale(1.1 1) translate(-7.00 0)">A</text>
<text x="7.00" y="215.56" font-size="11" text-anchor="start" fill="#111" font-weight="bold" font-style="normal" transform="translate(7.00 0) scale(1.1 1) translate(-7.00 0)">B</text>
<rect x="33.40" y="258.08" width="6.50" height="35.82" fill="#e9e9e9"/>
<rect x="33.40" y="261.06" width="6.50" height="32.83" fill="#f3a6a6"/>
<rect x="40.98" y="275.99" width="6.50" height="17.91" fill="#e9e9e9"/>
<rect x="40.98" y="290.91" width="6.50" height="2.99" fill="#f3a6a6"/>
<rect x="48.56" y="275.99" width="6.50" height="17.91" fill="#e9e9e9"/>
<rect x="56.14" y="234.20" width="6.50" height="59.70" fill="#e9e9e9"/>
<rect x="63.72" y="278.97" width="6.50" height="14.93" fill="#e9e9e9"/>
<rect x="63.72" y="290.91" width="6.50" height="2.99" fill="#f3a6a6"/>
<line x1="32.30" y1="232.60" x2="32.30" y2="294.30" stroke="#222" stroke-width="0.9"/>
<line x1="31.90" y1="293.90" x2="70.82" y2="293.90" stroke="#222" stroke-width="0.9"/>
<line x1="29.10" y1="293.90" x2="32.30" y2="293.90" stroke="#222" stroke-width="0.8"/>
<text x="25.80" y="296.24" font-size="6.5" text-anchor="end" fill="#333" font-weight="normal" font-style="normal" transform="translate(25.80 0) scale(0.9 1) translate(-25.80 0)">0</text>
<line x1="29.10" y1="278.97" x2="32.30" y2="278.97" stroke="#222" stroke-width="0.8"/>
<text x="25.80" y="281.31" font-size="6.5" text-anchor="end" fill="#333" font-weight="normal" font-style="normal" transform="translate(25.80 0) scale(0.9 1) translate(-25.80 0)">5</text>
<line x1="29.10" y1="264.05" x2="32.30" y2="264.05" stroke="#222" stroke-width="0.8"/>
<text x="25.80" y="266.39" font-size="6.5" text-anchor="end" fill="#333" font-weight="normal" font-style="normal" transform="translate(25.80 0) scale(0.9 1) translate(-25.80 0)">10</text>
<line x1="29.10" y1="249.12" x2="32.30" y2="249.12" stroke="#222" stroke-width="0.8"/>
<text x="25.80" y="251.46" font-size="6.5" text-anchor="end" fill="#333" font-weight="normal" font-style="normal" transform="translate(25.80 0) scale(0.9 1) translate(-25.80 0)">15</text>
<line x1="29.10" y1="234.20" x2="32.30" y2="234.20" stroke="#222" stroke-width="0.8"/>
<text x="25.80" y="236.54" font-size="6.5" text-anchor="end" fill="#333" font-weight="normal" font-style="normal" transform="translate(25.80 0) scale(0.9 1) translate(-25.80 0)">20</text>
<line x1="36.65" y1="293.90" x2="36.65" y2="296.50" stroke="#222" stroke-width="0.8"/>
<text x="36.65" y="299.50" font-size="6.5" text-anchor="end" fill="#303030" transform="rotate(-90 36.65 299.50)" dy="2.3">delHBS1L</text>
<line x1="44.23" y1="293.90" x2="44.23" y2="296.50" stroke="#222" stroke-width="0.8"/>
<text x="44.23" y="299.50" font-size="6.5" text-anchor="end" fill="#303030" transform="rotate(-90 44.23 299.50)" dy="2.3">del7</text>
<line x1="51.81" y1="293.90" x2="51.81" y2="296.50" stroke="#222" stroke-width="0.8"/>
<text x="51.81" y="299.50" font-size="6.5" text-anchor="end" fill="#303030" transform="rotate(-90 51.81 299.50)" dy="2.3">IKZF1</text>
<line x1="59.39" y1="293.90" x2="59.39" y2="296.50" stroke="#222" stroke-width="0.8"/>
<text x="59.39" y="299.50" font-size="6.5" text-anchor="end" fill="#303030" transform="rotate(-90 59.39 299.50)" dy="2.3">CDKN2A/PAX5</text>
<line x1="66.97" y1="293.90" x2="66.97" y2="296.50" stroke="#222" stroke-width="0.8"/>
<text x="66.97" y="299.50" font-size="6.5" text-anchor="end" fill="#303030" transform="rotate(-90 66.97 299.50)" dy="2.3">Unclassified</text>
<text x="11.50" y="263.15" font-size="8.2" text-anchor="middle" fill="#222" transform="translate(11.50 263.15) rotate(-90) scale(0.78 1) translate(-11.50 -263.15)" dy="2.8">Samples</text>
<text x="52.50" y="226.96" font-size="8.5" text-anchor="middle" fill="#222" font-weight="normal" font-style="italic" transform="translate(52.50 0) scale(0.9 1) translate(-52.50 0)">HBS1L</text>
<rect x="105.40" y="258.08" width="6.50" height="35.82" fill="#e9e9e9"/>
<rect x="105.40" y="290.91" width="6.50" height="2.99" fill="#f3a6a6"/>
<rect x="112.98" y="275.99" width="6.50" height="17.91" fill="#e9e9e9"/>
<rect x="112.98" y="275.99" width="6.50" height="17.91" fill="#f3a6a6"/>
<rect x="120.56" y="275.99" width="6.50" height="17.91" fill="#e9e9e9"/>
<rect x="120.56" y="290.91" width="6.50" height="2.99" fill="#f3a6a6"/>
<rect x="128.14" y="234.20" width="6.50" height="59.70" fill="#e9e9e9"/>
<rect x="135.72" y="278.97" width="6.50" height="14.93" fill="#e9e9e9"/>
<line x1="104.30" y1="232.60" x2="104.30" y2="294.30" stroke="#222" stroke-width="0.9"/>
<line x1="103.90" y1="293.90" x2="142.82" y2="293.90" stroke="#222" stroke-width="0.9"/>
<line x1="101.10" y1="293.90" x2="104.30" y2="293.90" stroke="#222" stroke-width="0.8"/>
<text x="97.80" y="296.24" font-size="6.5" text-anchor="end" fill="#333" font-weight="normal" font-style="normal" transform="translate(97.80 0) scale(0.9 1) translate(-97.80 0)">0</text>
<line x1="101.10" y1="278.97" x2="104.30" y2="278.97" stroke="#222" stroke-width="0.8"/>
<text x="97.80" y="281.31" font-size="6.5" text-anchor="end" fill="#333" font-weight="normal" font-style="normal" transform="translate(97.80 0) scale(0.9 1) translate(-97.80 0)">5</text>
<line x1="101.10" y1="264.05" x2="104.30" y2="264.05" stroke="#222" stroke-width="0.8"/>
<text x="97.80" y="266.39" font-size="6.5" text-anchor="end" fill="#333" font-weight="normal" font-style="normal" transform="translate(97.80 0) scale(0.9 1) translate(-97.80 0)">10</text>
<line x1="101.10" y1="249.12" x2="104.30" y2="249.12" stroke="#222" stroke-width="0.8"/>
<text x="97.80" y="251.46" font-size="6.5" text-anchor="end" fill="#333" font-weight="normal" font-style="normal" transform="translate(97.80 0) scale(0.9 1) translate(-97.80 0)">15</text>
<line x1="101.10" y1="234.20" x2="104.30" y2="234.20" stroke="#222" stroke-width="0.8"/>
<text x="97.80" y="236.54" font-size="6.5" text-anchor="end" fill="#333" font-weight="normal" font-style="normal" transform="translate(97.80 0) scale(0.9 1) translate(-97.80 0)">20</text>
<line x1="108.65" y1="293.90" x2="108.65" y2="296.50" stroke="#222" stroke-width="0.8"/>
<text x="108.65" y="299.50" font-size="6.5" text-anchor="end" fill="#303030" transform="rotate(-90 108.65 299.50)" dy="2.3">delHBS1L</text>
<line x1="116.23" y1="293.90" x2="116.23" y2="296.50" stroke="#222" stroke-width="0.8"/>
<text x="116.23" y="299.50" font-size="6.5" text-anchor="end" fill="#303030" transform="rotate(-90 116.23 299.50)" dy="2.3">del7</text>
<line x1="123.81" y1="293.90" x2="123.81" y2="296.50" stroke="#222" stroke-width="0.8"/>
<text x="123.81" y="299.50" font-size="6.5" text-anchor="end" fill="#303030" transform="rotate(-90 123.81 299.50)" dy="2.3">IKZF1</text>
<line x1="131.39" y1="293.90" x2="131.39" y2="296.50" stroke="#222" stroke-width="0.8"/>
<text x="131.39" y="299.50" font-size="6.5" text-anchor="end" fill="#303030" transform="rotate(-90 131.39 299.50)" dy="2.3">CDKN2A/PAX5</text>
<line x1="138.97" y1="293.90" x2="138.97" y2="296.50" stroke="#222" stroke-width="0.8"/>
<text x="138.97" y="299.50" font-size="6.5" text-anchor="end" fill="#303030" transform="rotate(-90 138.97 299.50)" dy="2.3">Unclassified</text>
<text x="124.10" y="226.96" font-size="8.5" text-anchor="middle" fill="#222" font-weight="normal" font-style="normal" transform="translate(124.10 0) scale(1.0 1) translate(-124.10 0)">chromosome 7</text>
<rect x="33.40" y="391.88" width="6.50" height="35.82" fill="#e9e9e9"/>
<rect x="33.40" y="397.85" width="6.50" height="29.85" fill="#f3a6a6"/>
<rect x="40.98" y="409.79" width="6.50" height="17.91" fill="#e9e9e9"/>
<rect x="40.98" y="409.79" width="6.50" height="17.91" fill="#f3a6a6"/>
<rect x="48.56" y="409.79" width="6.50" height="17.91" fill="#e9e9e9"/>
<rect x="48.56" y="412.77" width="6.50" height="14.93" fill="#f3a6a6"/>
<rect x="48.56" y="415.76" width="6.50" height="11.94" fill="#a31218"/>
<rect x="56.14" y="368.00" width="6.50" height="59.70" fill="#e9e9e9"/>
<rect x="56.14" y="388.89" width="6.50" height="38.81" fill="#f3a6a6"/>
<rect x="56.14" y="424.71" width="6.50" height="2.99" fill="#a31218"/>
<rect x="63.72" y="412.77" width="6.50" height="14.93" fill="#e9e9e9"/>
<rect x="63.72" y="418.75" width="6.50" height="8.95" fill="#f3a6a6"/>
<rect x="63.72" y="421.73" width="6.50" height="5.97" fill="#a31218"/>
<line x1="32.30" y1="366.40" x2="32.30" y2="428.10" stroke="#222" stroke-width="0.9"/>
<line x1="31.90" y1="427.70" x2="70.82" y2="427.70" stroke="#222" stroke-width="0.9"/>
<line x1="29.10" y1="427.70" x2="32.30" y2="427.70" stroke="#222" stroke-width="0.8"/>
<text x="25.80" y="430.04" font-size="6.5" text-anchor="end" fill="#333" font-weight="normal" font-style="normal" transform="translate(25.80 0) scale(0.9 1) translate(-25.80 0)">0</text>
<line x1="29.10" y1="412.77" x2="32.30" y2="412.77" stroke="#222" stroke-width="0.8"/>
<text x="25.80" y="415.11" font-size="6.5" text-anchor="end" fill="#333" font-weight="normal" font-style="normal" transform="translate(25.80 0) scale(0.9 1) translate(-25.80 0)">5</text>
<line x1="29.10" y1="397.85" x2="32.30" y2="397.85" stroke="#222" stroke-width="0.8"/>
<text x="25.80" y="400.19" font-size="6.5" text-anchor="end" fill="#333" font-weight="normal" font-style="normal" transform="translate(25.80 0) scale(0.9 1) translate(-25.80 0)">10</text>
<line x1="29.10" y1="382.93" x2="32.30" y2="382.93" stroke="#222" stroke-width="0.8"/>
<text x="25.80" y="385.26" font-size="6.5" text-anchor="end" fill="#333" font-weight="normal" font-style="normal" transform="translate(25.80 0) scale(0.9 1) translate(-25.80 0)">15</text>
<line x1="29.10" y1="368.00" x2="32.30" y2="368.00" stroke="#222" stroke-width="0.8"/>
<text x="25.80" y="370.34" font-size="6.5" text-anchor="end" fill="#333" font-weight="normal" font-style="normal" transform="translate(25.80 0) scale(0.9 1) translate(-25.80 0)">20</text>
<line x1="36.65" y1="427.70" x2="36.65" y2="430.30" stroke="#222" stroke-width="0.8"/>
<text x="36.65" y="433.30" font-size="6.5" text-anchor="end" fill="#303030" transform="rotate(-90 36.65 433.30)" dy="2.3">delHBS1L</text>
<line x1="44.23" y1="427.70" x2="44.23" y2="430.30" stroke="#222" stroke-width="0.8"/>
<text x="44.23" y="433.30" font-size="6.5" text-anchor="end" fill="#303030" transform="rotate(-90 44.23 433.30)" dy="2.3">del7</text>
<line x1="51.81" y1="427.70" x2="51.81" y2="430.30" stroke="#222" stroke-width="0.8"/>
<text x="51.81" y="433.30" font-size="6.5" text-anchor="end" fill="#303030" transform="rotate(-90 51.81 433.30)" dy="2.3">IKZF1</text>
<line x1="59.39" y1="427.70" x2="59.39" y2="430.30" stroke="#222" stroke-width="0.8"/>
<text x="59.39" y="433.30" font-size="6.5" text-anchor="end" fill="#303030" transform="rotate(-90 59.39 433.30)" dy="2.3">CDKN2A/PAX5</text>
<line x1="66.97" y1="427.70" x2="66.97" y2="430.30" stroke="#222" stroke-width="0.8"/>
<text x="66.97" y="433.30" font-size="6.5" text-anchor="end" fill="#303030" transform="rotate(-90 66.97 433.30)" dy="2.3">Unclassified</text>
<text x="11.50" y="396.95" font-size="8.2" text-anchor="middle" fill="#222" transform="translate(11.50 396.95) rotate(-90) scale(0.78 1) translate(-11.50 -396.95)" dy="2.8">Samples</text>
<text x="52.50" y="360.76" font-size="8.5" text-anchor="middle" fill="#222" font-weight="normal" font-style="italic" transform="translate(52.50 0) scale(0.9 1) translate(-52.50 0)">IKZF1</text>
<rect x="105.40" y="391.88" width="6.50" height="35.82" fill="#e9e9e9"/>
<rect x="105.40" y="424.71" width="6.50" height="2.99" fill="#a31218"/>
<rect x="112.98" y="409.79" width="6.50" height="17.91" fill="#e9e9e9"/>
<rect x="112.98" y="426.95" width="6.50" height="0.75" fill="#a31218"/>
<rect x="120.56" y="409.79" width="6.50" height="17.91" fill="#e9e9e9"/>
<rect x="120.56" y="421.73" width="6.50" height="5.97" fill="#a31218"/>
<rect x="128.14" y="368.00" width="6.50" height="59.70" fill="#e9e9e9"/>
<rect x="128.14" y="385.91" width="6.50" height="41.79" fill="#f3a6a6"/>
<rect x="128.14" y="388.89" width="6.50" height="38.81" fill="#a31218"/>
<rect x="135.72" y="412.77" width="6.50" height="14.93" fill="#e9e9e9"/>
<rect x="135.72" y="418.75" width="6.50" height="8.95" fill="#a31218"/>
<line x1="104.30" y1="366.40" x2="104.30" y2="428.10" stroke="#222" stroke-width="0.9"/>
<line x1="103.90" y1="427.70" x2="142.82" y2="427.70" stroke="#222" stroke-width="0.9"/>
<line x1="101.10" y1="427.70" x2="104.30" y2="427.70" stroke="#222" stroke-width="0.8"/>
<text x="97.80" y="430.04" font-size="6.5" text-anchor="end" fill="#333" font-weight="normal" font-style="normal" transform="translate(97.80 0) scale(0.9 1) translate(-97.80 0)">0</text>
<line x1="101.10" y1="412.77" x2="104.30" y2="412.77" stroke="#222" stroke-width="0.8"/>
<text x="97.80" y="415.11" font-size="6.5" text-anchor="end" fill="#333" font-weight="normal" font-style="normal" transform="translate(97.80 0) scale(0.9 1) translate(-97.80 0)">5</text>
<line x1="101.10" y1="397.85" x2="104.30" y2="397.85" stroke="#222" stroke-width="0.8"/>
<text x="97.80" y="400.19" font-size="6.5" text-anchor="end" fill="#333" font-weight="normal" font-style="normal" transform="translate(97.80 0) scale(0.9 1) translate(-97.80 0)">10</text>
<line x1="101.10" y1="382.93" x2="104.30" y2="382.93" stroke="#222" stroke-width="0.8"/>
<text x="97.80" y="385.26" font-size="6.5" text-anchor="end" fill="#333" font-weight="normal" font-style="normal" transform="translate(97.80 0) scale(0.9 1) translate(-97.80 0)">15</text>
<line x1="101.10" y1="368.00" x2="104.30" y2="368.00" stroke="#222" stroke-width="0.8"/>
<text x="97.80" y="370.34" font-size="6.5" text-anchor="end" fill="#333" font-weight="normal" font-style="normal" transform="translate(97.80 0) scale(0.9 1) translate(-97.80 0)">20</text>
<line x1="108.65" y1="427.70" x2="108.65" y2="430.30" stroke="#222" stroke-width="0.8"/>
<text x="108.65" y="433.30" font-size="6.5" text-anchor="end" fill="#303030" transform="rotate(-90 108.65 433.30)" dy="2.3">delHBS1L</text>
<line x1="116.23" y1="427.70" x2="116.23" y2="430.30" stroke="#222" stroke-width="0.8"/>
<text x="116.23" y="433.30" font-size="6.5" text-anchor="end" fill="#303030" transform="rotate(-90 116.23 433.30)" dy="2.3">del7</text>
<line x1="123.81" y1="427.70" x2="123.81" y2="430.30" stroke="#222" stroke-width="0.8"/>
<text x="123.81" y="433.30" font-size="6.5" text-anchor="end" fill="#303030" transform="rotate(-90 123.81 433.30)" dy="2.3">IKZF1</text>
<line x1="131.39" y1="427.70" x2="131.39" y2="430.30" stroke="#222" stroke-width="0.8"/>
<text x="131.39" y="433.30" font-size="6.5" text-anchor="end" fill="#303030" transform="rotate(-90 131.39 433.30)" dy="2.3">CDKN2A/PAX5</text>
<line x1="138.97" y1="427.70" x2="138.97" y2="430.30" stroke="#222" stroke-width="0.8"/>
<text x="138.97" y="433.30" font-size="6.5" text-anchor="end" fill="#303030" transform="rotate(-90 138.97 433.30)" dy="2.3">Unclassified</text>
<text x="124.10" y="360.76" font-size="8.5" text-anchor="middle" fill="#222" font-weight="normal" font-style="italic" transform="translate(124.10 0) scale(1.0 1) translate(-124.10 0)">CDKN2A/B</text>
<rect x="33.40" y="525.98" width="6.50" height="35.82" fill="#e9e9e9"/>
<rect x="33.40" y="555.83" width="6.50" height="5.97" fill="#f3a6a6"/>
<rect x="40.98" y="543.89" width="6.50" height="17.91" fill="#e9e9e9"/>
<rect x="40.98" y="558.81" width="6.50" height="2.99" fill="#f3a6a6"/>
<rect x="48.56" y="543.89" width="6.50" height="17.91" fill="#e9e9e9"/>
<rect x="48.56" y="552.84" width="6.50" height="8.96" fill="#f3a6a6"/>
<rect x="56.14" y="502.10" width="6.50" height="59.70" fill="#e9e9e9"/>
<rect x="56.14" y="523.00" width="6.50" height="38.80" fill="#f3a6a6"/>
<rect x="63.72" y="546.88" width="6.50" height="14.92" fill="#e9e9e9"/>
<rect x="63.72" y="552.84" width="6.50" height="8.96" fill="#f3a6a6"/>
<rect x="63.72" y="558.81" width="6.50" height="2.99" fill="#a31218"/>
<line x1="32.30" y1="500.50" x2="32.30" y2="562.20" stroke="#222" stroke-width="0.9"/>
<line x1="31.90" y1="561.80" x2="70.82" y2="561.80" stroke="#222" stroke-width="0.9"/>
<line x1="29.10" y1="561.80" x2="32.30" y2="561.80" stroke="#222" stroke-width="0.8"/>
<text x="25.80" y="564.14" font-size="6.5" text-anchor="end" fill="#333" font-weight="normal" font-style="normal" transform="translate(25.80 0) scale(0.9 1) translate(-25.80 0)">0</text>
<line x1="29.10" y1="546.88" x2="32.30" y2="546.88" stroke="#222" stroke-width="0.8"/>
<text x="25.80" y="549.22" font-size="6.5" text-anchor="end" fill="#333" font-weight="normal" font-style="normal" transform="translate(25.80 0) scale(0.9 1) translate(-25.80 0)">5</text>
<line x1="29.10" y1="531.95" x2="32.30" y2="531.95" stroke="#222" stroke-width="0.8"/>
<text x="25.80" y="534.29" font-size="6.5" text-anchor="end" fill="#333" font-weight="normal" font-style="normal" transform="translate(25.80 0) scale(0.9 1) translate(-25.80 0)">10</text>
<line x1="29.10" y1="517.02" x2="32.30" y2="517.02" stroke="#222" stroke-width="0.8"/>
<text x="25.80" y="519.37" font-size="6.5" text-anchor="end" fill="#333" font-weight="normal" font-style="normal" transform="translate(25.80 0) scale(0.9 1) translate(-25.80 0)">15</text>
<line x1="29.10" y1="502.10" x2="32.30" y2="502.10" stroke="#222" stroke-width="0.8"/>
<text x="25.80" y="504.44" font-size="6.5" text-anchor="end" fill="#333" font-weight="normal" font-style="normal" transform="translate(25.80 0) scale(0.9 1) translate(-25.80 0)">20</text>
<line x1="36.65" y1="561.80" x2="36.65" y2="564.40" stroke="#222" stroke-width="0.8"/>
<text x="36.65" y="567.40" font-size="6.5" text-anchor="end" fill="#303030" transform="rotate(-90 36.65 567.40)" dy="2.3">delHBS1L</text>
<line x1="44.23" y1="561.80" x2="44.23" y2="564.40" stroke="#222" stroke-width="0.8"/>
<text x="44.23" y="567.40" font-size="6.5" text-anchor="end" fill="#303030" transform="rotate(-90 44.23 567.40)" dy="2.3">del7</text>
<line x1="51.81" y1="561.80" x2="51.81" y2="564.40" stroke="#222" stroke-width="0.8"/>
<text x="51.81" y="567.40" font-size="6.5" text-anchor="end" fill="#303030" transform="rotate(-90 51.81 567.40)" dy="2.3">IKZF1</text>
<line x1="59.39" y1="561.80" x2="59.39" y2="564.40" stroke="#222" stroke-width="0.8"/>
<text x="59.39" y="567.40" font-size="6.5" text-anchor="end" fill="#303030" transform="rotate(-90 59.39 567.40)" dy="2.3">CDKN2A/PAX5</text>
<line x1="66.97" y1="561.80" x2="66.97" y2="564.40" stroke="#222" stroke-width="0.8"/>
<text x="66.97" y="567.40" font-size="6.5" text-anchor="end" fill="#303030" transform="rotate(-90 66.97 567.40)" dy="2.3">Unclassified</text>
<text x="11.50" y="531.05" font-size="8.2" text-anchor="middle" fill="#222" transform="translate(11.50 531.05) rotate(-90) scale(0.78 1) translate(-11.50 -531.05)" dy="2.8">Samples</text>
<text x="52.00" y="494.86" font-size="8.5" text-anchor="middle" fill="#222" font-weight="normal" font-style="italic" transform="translate(52.00 0) scale(0.9 1) translate(-52.00 0)">PAX5</text>
<rect x="105.40" y="525.98" width="6.00" height="35.82" fill="#e9e9e9"/>
<rect x="112.40" y="543.89" width="6.00" height="17.91" fill="#e9e9e9"/>
<rect x="119.40" y="543.89" width="6.00" height="17.91" fill="#e9e9e9"/>
<rect x="126.40" y="502.10" width="6.00" height="59.70" fill="#e9e9e9"/>
<rect x="126.40" y="552.84" width="6.00" height="8.96" fill="#b8cf1c"/>
<rect x="133.40" y="546.88" width="6.00" height="14.92" fill="#e9e9e9"/>
<line x1="104.30" y1="500.50" x2="104.30" y2="562.20" stroke="#222" stroke-width="0.9"/>
<line x1="103.90" y1="561.80" x2="140.00" y2="561.80" stroke="#222" stroke-width="0.9"/>
<line x1="101.10" y1="561.80" x2="104.30" y2="561.80" stroke="#222" stroke-width="0.8"/>
<text x="97.80" y="564.14" font-size="6.5" text-anchor="end" fill="#333" font-weight="normal" font-style="normal" transform="translate(97.80 0) scale(0.9 1) translate(-97.80 0)">0</text>
<line x1="101.10" y1="546.88" x2="104.30" y2="546.88" stroke="#222" stroke-width="0.8"/>
<text x="97.80" y="549.22" font-size="6.5" text-anchor="end" fill="#333" font-weight="normal" font-style="normal" transform="translate(97.80 0) scale(0.9 1) translate(-97.80 0)">5</text>
<line x1="101.10" y1="531.95" x2="104.30" y2="531.95" stroke="#222" stroke-width="0.8"/>
<text x="97.80" y="534.29" font-size="6.5" text-anchor="end" fill="#333" font-weight="normal" font-style="normal" transform="translate(97.80 0) scale(0.9 1) translate(-97.80 0)">10</text>
<line x1="101.10" y1="517.02" x2="104.30" y2="517.02" stroke="#222" stroke-width="0.8"/>
<text x="97.80" y="519.37" font-size="6.5" text-anchor="end" fill="#333" font-weight="normal" font-style="normal" transform="translate(97.80 0) scale(0.9 1) translate(-97.80 0)">15</text>
<line x1="101.10" y1="502.10" x2="104.30" y2="502.10" stroke="#222" stroke-width="0.8"/>
<text x="97.80" y="504.44" font-size="6.5" text-anchor="end" fill="#333" font-weight="normal" font-style="normal" transform="translate(97.80 0) scale(0.9 1) translate(-97.80 0)">20</text>
<line x1="108.40" y1="561.80" x2="108.40" y2="564.40" stroke="#222" stroke-width="0.8"/>
<text x="108.40" y="567.40" font-size="6.5" text-anchor="end" fill="#303030" transform="rotate(-90 108.40 567.40)" dy="2.3">delHBS1L</text>
<line x1="115.40" y1="561.80" x2="115.40" y2="564.40" stroke="#222" stroke-width="0.8"/>
<text x="115.40" y="567.40" font-size="6.5" text-anchor="end" fill="#303030" transform="rotate(-90 115.40 567.40)" dy="2.3">del7</text>
<line x1="122.40" y1="561.80" x2="122.40" y2="564.40" stroke="#222" stroke-width="0.8"/>
<text x="122.40" y="567.40" font-size="6.5" text-anchor="end" fill="#303030" transform="rotate(-90 122.40 567.40)" dy="2.3">IKZF1</text>
<line x1="129.40" y1="561.80" x2="129.40" y2="564.40" stroke="#222" stroke-width="0.8"/>
<text x="129.40" y="567.40" font-size="6.5" text-anchor="end" fill="#303030" transform="rotate(-90 129.40 567.40)" dy="2.3">CDKN2A/PAX5</text>
<line x1="136.40" y1="561.80" x2="136.40" y2="564.40" stroke="#222" stroke-width="0.8"/>
<text x="136.40" y="567.40" font-size="6.5" text-anchor="end" fill="#303030" transform="rotate(-90 136.40 567.40)" dy="2.3">Unclassified</text>
<text x="83.30" y="531.05" font-size="8.2" text-anchor="middle" fill="#222" transform="translate(83.30 531.05) rotate(-90) scale(0.78 1) translate(-83.30 -531.05)" dy="2.8">Samples</text>
<text x="122.40" y="494.86" font-size="8.5" text-anchor="middle" fill="#222" font-weight="normal" font-style="normal" transform="translate(122.40 0) scale(1.0 1) translate(-122.40 0)">Hyperdiploid</text>
<text x="33.60" y="623.90" font-size="6.4" text-anchor="start" fill="#222" font-weight="normal" font-style="normal">CNV</text>
<text x="103.80" y="623.90" font-size="6.4" text-anchor="start" fill="#222" font-weight="normal" font-style="normal">hyperdiploid</text>
<rect x="33.60" y="627.70" width="5.40" height="5.40" fill="#e9e9e9"/>
<text x="42.30" y="632.70" font-size="6.4" text-anchor="start" fill="#222" font-weight="normal" font-style="normal">wt</text>
<rect x="33.60" y="636.90" width="5.40" height="5.40" fill="#f3a6a6"/>
<text x="42.30" y="641.90" font-size="6.4" text-anchor="start" fill="#222" font-weight="normal" font-style="normal">het del</text>
<rect x="33.60" y="646.10" width="5.40" height="5.40" fill="#a31218"/>
<text x="42.30" y="651.10" font-size="6.4" text-anchor="start" fill="#222" font-weight="normal" font-style="normal">homo del</text>
<rect x="103.80" y="627.70" width="5.40" height="5.40" fill="#e9e9e9"/>
<text x="112.50" y="632.70" font-size="6.4" text-anchor="start" fill="#222" font-weight="normal" font-style="normal">no</text>
<rect x="103.80" y="636.90" width="5.40" height="5.40" fill="#b8cf1c"/>
<text x="112.50" y="641.90" font-size="6.4" text-anchor="start" fill="#222" font-weight="normal" font-style="normal">yes</text>
<text x="189.50" y="215.56" font-size="11" text-anchor="start" fill="#111" font-weight="bold" font-style="normal" transform="translate(189.50 0) scale(1.1 1) translate(-189.50 0)">C</text>
<text x="368.20" y="210.55" font-size="8.2" text-anchor="middle" fill="#222" font-weight="normal" font-style="italic" transform="translate(368.20 0) scale(0.95 1) translate(-368.20 0)">HBS1L</text>
<text x="243.80" y="224.99" font-size="8.3" text-anchor="start" fill="#222" font-weight="normal" font-style="normal">Alternative</text>
<text x="290.20" y="224.99" font-size="8.3" text-anchor="start" fill="#222" font-weight="normal" font-style="normal" transform="translate(290.20 0) scale(0.85 1) translate(-290.20 0)">TSS</text>
<text x="323.00" y="224.99" font-size="8.3" text-anchor="start" fill="#222" font-weight="normal" font-style="normal">Exon 1-19</text>
<text x="378.00" y="224.99" font-size="8.3" text-anchor="start" fill="#222" font-weight="normal" font-style="normal">Exon 1-3 avg.</text>
<text x="469.00" y="224.99" font-size="8.3" text-anchor="middle" fill="#222" font-weight="normal" font-style="normal">Gene</text>
<rect x="221.00" y="230.50" width="7.30" height="2.68" fill="#e8431a"/>
<rect x="230.20" y="230.50" width="7.50" height="2.68" fill="#ffe81a"/>
<rect x="221.00" y="232.58" width="7.30" height="2.68" fill="#e8431a"/>
<rect x="230.20" y="232.58" width="7.50" height="2.68" fill="#ffe81a"/>
<rect x="221.00" y="234.66" width="7.30" height="2.68" fill="#2d2a8e"/>
<rect x="230.20" y="234.66" width="7.50" height="2.68" fill="#b3daee"/>
<rect x="221.00" y="236.74" width="7.30" height="2.68" fill="#e8431a"/>
<rect x="230.20" y="236.74" width="7.50" height="2.68" fill="#ffe81a"/>
<rect x="221.00" y="238.82" width="7.30" height="2.68" fill="#e8431a"/>
<rect x="230.20" y="238.82" width="7.50" height="2.68" fill="#ffe81a"/>
<rect x="221.00" y="240.91" width="7.30" height="2.68" fill="#e8431a"/>
<rect x="230.20" y="240.91" width="7.50" height="2.68" fill="#ffe81a"/>
<rect x="221.00" y="242.99" width="7.30" height="2.68" fill="#e8431a"/>
<rect x="230.20" y="242.99" width="7.50" height="2.68" fill="#f9a01b"/>
<rect x="221.00" y="245.07" width="7.30" height="2.68" fill="#e8431a"/>
<rect x="230.20" y="245.07" width="7.50" height="2.68" fill="#ffe81a"/>
<rect x="221.00" y="247.15" width="7.30" height="2.68" fill="#e8431a"/>
<rect x="230.20" y="247.15" width="7.50" height="2.68" fill="#ffe81a"/>
<rect x="221.00" y="249.23" width="7.30" height="2.68" fill="#e8431a"/>
<rect x="230.20" y="249.23" width="7.50" height="2.68" fill="#f9a01b"/>
<rect x="221.00" y="251.31" width="7.30" height="2.68" fill="#e8431a"/>
<rect x="230.20" y="251.31" width="7.50" height="2.68" fill="#f9a01b"/>
<rect x="221.00" y="253.39" width="7.30" height="2.68" fill="#e8431a"/>
<rect x="230.20" y="253.39" width="7.50" height="2.68" fill="#ffe81a"/>
<rect x="221.00" y="255.47" width="7.30" height="2.68" fill="#e8431a"/>
<rect x="230.20" y="255.47" width="7.50" height="2.68" fill="#ffe81a"/>
<rect x="221.00" y="257.55" width="7.30" height="2.68" fill="#e8431a"/>
<rect x="230.20" y="257.55" width="7.50" height="2.68" fill="#f9a01b"/>
<rect x="221.00" y="259.63" width="7.30" height="2.68" fill="#e8431a"/>
<rect x="230.20" y="259.63" width="7.50" height="2.68" fill="#f9a01b"/>
<rect x="221.00" y="261.72" width="7.30" height="2.68" fill="#e8431a"/>
<rect x="230.20" y="261.72" width="7.50" height="2.68" fill="#f9a01b"/>
<rect x="221.00" y="263.80" width="7.30" height="2.68" fill="#e8431a"/>
<rect x="230.20" y="263.80" width="7.50" height="2.68" fill="#f9a01b"/>
<rect x="221.00" y="265.88" width="7.30" height="2.68" fill="#8e1838"/>
<rect x="230.20" y="265.88" width="7.50" height="2.68" fill="#3fa565"/>
<rect x="221.00" y="267.96" width="7.30" height="2.68" fill="#8e1838"/>
<rect x="230.20" y="267.96" width="7.50" height="2.68" fill="#3fa565"/>
<rect x="221.00" y="270.04" width="7.30" height="2.68" fill="#e8431a"/>
<rect x="230.20" y="270.04" width="7.50" height="2.68" fill="#ffe81a"/>
<rect x="221.00" y="272.12" width="7.30" height="2.68" fill="#e8431a"/>
<rect x="230.20" y="272.12" width="7.50" height="2.68" fill="#f9a01b"/>
<rect x="221.00" y="274.20" width="7.30" height="2.68" fill="#8e1838"/>
<rect x="230.20" y="274.20" width="7.50" height="2.68" fill="#2a9db0"/>
<rect x="221.00" y="276.28" width="7.30" height="2.68" fill="#e8431a"/>
<rect x="230.20" y="276.28" width="7.50" height="2.68" fill="#ffe81a"/>
<rect x="221.00" y="278.36" width="7.30" height="2.68" fill="#e8431a"/>
<rect x="230.20" y="278.36" width="7.50" height="2.68" fill="#ffe81a"/>
<rect x="221.00" y="280.44" width="7.30" height="2.68" fill="#e8431a"/>
<rect x="230.20" y="280.44" width="7.50" height="2.68" fill="#f9a01b"/>
<rect x="221.00" y="282.53" width="7.30" height="2.68" fill="#e8431a"/>
<rect x="230.20" y="282.53" width="7.50" height="2.68" fill="#ffe81a"/>
<rect x="221.00" y="284.61" width="7.30" height="2.68" fill="#e8431a"/>
<rect x="230.20" y="284.61" width="7.50" height="2.68" fill="#ffe81a"/>
<rect x="221.00" y="286.69" width="7.30" height="2.68" fill="#e8431a"/>
<rect x="230.20" y="286.69" width="7.50" height="2.68" fill="#f9a01b"/>
<rect x="221.00" y="288.77" width="7.30" height="2.68" fill="#e8431a"/>
<rect x="230.20" y="288.77" width="7.50" height="2.68" fill="#ffe81a"/>
<rect x="221.00" y="290.85" width="7.30" height="2.68" fill="#e8431a"/>
<rect x="230.20" y="290.85" width="7.50" height="2.68" fill="#f9a01b"/>
<rect x="221.00" y="292.93" width="7.30" height="2.68" fill="#8e1838"/>
<rect x="230.20" y="292.93" width="7.50" height="2.68" fill="#3fa565"/>
<rect x="221.00" y="295.01" width="7.30" height="2.68" fill="#e8431a"/>
<rect x="230.20" y="295.01" width="7.50" height="2.68" fill="#f9a01b"/>
<rect x="221.00" y="297.09" width="7.30" height="2.68" fill="#e8431a"/>
<rect x="230.20" y="297.09" width="7.50" height="2.68" fill="#f9a01b"/>
<rect x="221.00" y="299.17" width="7.30" height="2.68" fill="#e8431a"/>
<rect x="230.20" y="299.17" width="7.50" height="2.68" fill="#f9a01b"/>
<rect x="221.00" y="301.25" width="7.30" height="2.68" fill="#e8431a"/>
<rect x="230.20" y="301.25" width="7.50" height="2.68" fill="#f9a01b"/>
<rect x="221.00" y="303.34" width="7.30" height="2.68" fill="#2d2a8e"/>
<rect x="230.20" y="303.34" width="7.50" height="2.68" fill="#b3daee"/>
<rect x="221.00" y="305.42" width="7.30" height="2.68" fill="#e8431a"/>
<rect x="230.20" y="305.42" width="7.50" height="2.68" fill="#ffe81a"/>
<rect x="221.00" y="307.50" width="7.30" height="2.68" fill="#2d2a8e"/>
<rect x="230.20" y="307.50" width="7.50" height="2.68" fill="#b3daee"/>
<rect x="221.00" y="309.58" width="7.30" height="2.68" fill="#e8431a"/>
<rect x="230.20" y="309.58" width="7.50" height="2.68" fill="#ffe81a"/>
<rect x="221.00" y="311.66" width="7.30" height="2.68" fill="#2d2a8e"/>
<rect x="230.20" y="311.66" width="7.50" height="2.68" fill="#b3daee"/>
<rect x="221.00" y="313.74" width="7.30" height="2.68" fill="#2d2a8e"/>
<rect x="230.20" y="313.74" width="7.50" height="2.68" fill="#1c93c7"/>
<rect x="221.00" y="315.82" width="7.30" height="2.68" fill="#2d2a8e"/>
<rect x="230.20" y="315.82" width="7.50" height="2.68" fill="#1c93c7"/>
<rect x="221.00" y="317.90" width="7.30" height="2.68" fill="#2d2a8e"/>
<rect x="230.20" y="317.90" width="7.50" height="2.68" fill="#1c93c7"/>
<rect x="221.00" y="319.98" width="7.30" height="2.68" fill="#2d2a8e"/>
<rect x="230.20" y="319.98" width="7.50" height="2.68" fill="#b3daee"/>
<rect x="221.00" y="322.06" width="7.30" height="2.68" fill="#2d2a8e"/>
<rect x="230.20" y="322.06" width="7.50" height="2.68" fill="#b3daee"/>
<rect x="221.00" y="324.15" width="7.30" height="2.68" fill="#2d2a8e"/>
<rect x="230.20" y="324.15" width="7.50" height="2.68" fill="#b3daee"/>
<rect x="221.00" y="326.23" width="7.30" height="2.68" fill="#2d2a8e"/>
<rect x="230.20" y="326.23" width="7.50" height="2.68" fill="#b3daee"/>
<rect x="221.00" y="328.31" width="7.30" height="2.68" fill="#2d2a8e"/>
<rect x="230.20" y="328.31" width="7.50" height="2.68" fill="#1c93c7"/>
<rect x="221.00" y="330.39" width="7.30" height="2.68" fill="#2d2a8e"/>
<rect x="230.20" y="330.39" width="7.50" height="2.68" fill="#1c93c7"/>
<rect x="221.00" y="332.47" width="7.30" height="2.68" fill="#2d2a8e"/>
<rect x="230.20" y="332.47" width="7.50" height="2.68" fill="#1c93c7"/>
<rect x="221.00" y="334.55" width="7.30" height="2.68" fill="#2d2a8e"/>
<rect x="230.20" y="334.55" width="7.50" height="2.68" fill="#1c93c7"/>
<rect x="221.00" y="336.63" width="7.30" height="2.68" fill="#2d2a8e"/>
<rect x="230.20" y="336.63" width="7.50" height="2.68" fill="#1c93c7"/>
<rect x="221.00" y="338.71" width="7.30" height="2.68" fill="#2d2a8e"/>
<rect x="230.20" y="338.71" width="7.50" height="2.68" fill="#1c93c7"/>
<rect x="221.00" y="340.79" width="7.30" height="2.68" fill="#2d2a8e"/>
<rect x="230.20" y="340.79" width="7.50" height="2.68" fill="#b3daee"/>
<rect x="221.00" y="342.87" width="7.30" height="2.68" fill="#2d2a8e"/>
<rect x="230.20" y="342.87" width="7.50" height="2.68" fill="#b3daee"/>
<rect x="221.00" y="344.96" width="7.30" height="2.68" fill="#2d2a8e"/>
<rect x="230.20" y="344.96" width="7.50" height="2.68" fill="#1c93c7"/>
<rect x="221.00" y="347.04" width="7.30" height="2.68" fill="#2d2a8e"/>
<rect x="230.20" y="347.04" width="7.50" height="2.68" fill="#1c93c7"/>
<rect x="221.00" y="349.12" width="7.30" height="2.68" fill="#2d2a8e"/>
<rect x="230.20" y="349.12" width="7.50" height="2.68" fill="#1c93c7"/>
<rect x="221.00" y="351.20" width="7.30" height="2.68" fill="#2d2a8e"/>
<rect x="230.20" y="351.20" width="7.50" height="2.68" fill="#b3daee"/>
<rect x="221.00" y="353.28" width="7.30" height="2.68" fill="#2d2a8e"/>
<rect x="230.20" y="353.28" width="7.50" height="2.68" fill="#1c93c7"/>
<rect x="221.00" y="355.36" width="7.30" height="2.68" fill="#2d2a8e"/>
<rect x="230.20" y="355.36" width="7.50" height="2.68" fill="#1c93c7"/>
<rect x="221.00" y="357.44" width="7.30" height="2.68" fill="#2d2a8e"/>
<rect x="230.20" y="357.44" width="7.50" height="2.68" fill="#1c93c7"/>
<rect x="221.00" y="359.52" width="7.30" height="2.68" fill="#2d2a8e"/>
<rect x="230.20" y="359.52" width="7.50" height="2.68" fill="#b3daee"/>
<rect x="221.00" y="361.60" width="7.30" height="2.68" fill="#2d2a8e"/>
<rect x="230.20" y="361.60" width="7.50" height="2.68" fill="#1c93c7"/>
<rect x="221.00" y="363.68" width="7.30" height="2.68" fill="#2d2a8e"/>
<rect x="230.20" y="363.68" width="7.50" height="2.68" fill="#1c93c7"/>
<rect x="221.00" y="365.76" width="7.30" height="2.68" fill="#2d2a8e"/>
<rect x="230.20" y="365.76" width="7.50" height="2.68" fill="#b3daee"/>
<rect x="221.00" y="367.85" width="7.30" height="2.68" fill="#2d2a8e"/>
<rect x="230.20" y="367.85" width="7.50" height="2.68" fill="#b3daee"/>
<rect x="221.00" y="369.93" width="7.30" height="2.68" fill="#2d2a8e"/>
<rect x="230.20" y="369.93" width="7.50" height="2.68" fill="#b3daee"/>
<rect x="221.00" y="372.01" width="7.30" height="2.68" fill="#2d2a8e"/>
<rect x="230.20" y="372.01" width="7.50" height="2.68" fill="#1c93c7"/>
<rect x="221.00" y="374.09" width="7.30" height="2.68" fill="#2d2a8e"/>
<rect x="230.20" y="374.09" width="7.50" height="2.68" fill="#b3daee"/>
<rect x="221.00" y="376.17" width="7.30" height="2.68" fill="#e8431a"/>
<rect x="230.20" y="376.17" width="7.50" height="2.68" fill="#ffe81a"/>
<rect x="221.00" y="378.25" width="7.30" height="2.68" fill="#2d2a8e"/>
<rect x="230.20" y="378.25" width="7.50" height="2.68" fill="#b3daee"/>
<rect x="221.00" y="380.33" width="7.30" height="2.68" fill="#e8431a"/>
<rect x="230.20" y="380.33" width="7.50" height="2.68" fill="#fff39a"/>
<rect x="221.00" y="382.41" width="7.30" height="2.68" fill="#2d2a8e"/>
<rect x="230.20" y="382.41" width="7.50" height="2.68" fill="#b3daee"/>
<rect x="221.00" y="384.49" width="7.30" height="2.68" fill="#2d2a8e"/>
<rect x="230.20" y="384.49" width="7.50" height="2.68" fill="#1c93c7"/>
<rect x="221.00" y="386.58" width="7.30" height="2.68" fill="#2d2a8e"/>
<rect x="230.20" y="386.58" width="7.50" height="2.68" fill="#1c93c7"/>
<rect x="221.00" y="388.66" width="7.30" height="2.68" fill="#2d2a8e"/>
<rect x="230.20" y="388.66" width="7.50" height="2.68" fill="#b3daee"/>
<rect x="221.00" y="390.74" width="7.30" height="2.68" fill="#2d2a8e"/>
<rect x="230.20" y="390.74" width="7.50" height="2.68" fill="#1c93c7"/>
<rect x="221.00" y="392.82" width="7.30" height="2.68" fill="#2d2a8e"/>
<rect x="230.20" y="392.82" width="7.50" height="2.68" fill="#1c93c7"/>
<rect x="221.00" y="394.90" width="7.30" height="2.68" fill="#2d2a8e"/>
<rect x="230.20" y="394.90" width="7.50" height="2.68" fill="#1c93c7"/>
<rect x="221.00" y="396.98" width="7.30" height="2.68" fill="#2d2a8e"/>
<rect x="230.20" y="396.98" width="7.50" height="2.68" fill="#1c93c7"/>
<rect x="221.00" y="399.06" width="7.30" height="2.68" fill="#2d2a8e"/>
<rect x="230.20" y="399.06" width="7.50" height="2.68" fill="#b3daee"/>
<rect x="221.00" y="401.14" width="7.30" height="2.68" fill="#2d2a8e"/>
<rect x="230.20" y="401.14" width="7.50" height="2.68" fill="#b3daee"/>
<rect x="221.00" y="403.22" width="7.30" height="2.68" fill="#2d2a8e"/>
<rect x="230.20" y="403.22" width="7.50" height="2.68" fill="#1c93c7"/>
<rect x="221.00" y="405.30" width="7.30" height="2.68" fill="#e8431a"/>
<rect x="230.20" y="405.30" width="7.50" height="2.68" fill="#c9a463"/>
<rect x="221.00" y="407.39" width="7.30" height="2.68" fill="#2d2a8e"/>
<rect x="230.20" y="407.39" width="7.50" height="2.68" fill="#1c93c7"/>
<rect x="221.00" y="409.47" width="7.30" height="2.68" fill="#2d2a8e"/>
<rect x="230.20" y="409.47" width="7.50" height="2.68" fill="#1c93c7"/>
<rect x="221.00" y="411.55" width="7.30" height="2.68" fill="#2d2a8e"/>
<rect x="230.20" y="411.55" width="7.50" height="2.68" fill="#1c93c7"/>
<rect x="221.00" y="413.63" width="7.30" height="2.68" fill="#2d2a8e"/>
<rect x="230.20" y="413.63" width="7.50" height="2.68" fill="#1c93c7"/>
<rect x="221.00" y="415.71" width="7.30" height="2.68" fill="#2d2a8e"/>
<rect x="230.20" y="415.71" width="7.50" height="2.68" fill="#1c93c7"/>
<rect x="221.00" y="417.79" width="7.30" height="2.68" fill="#e8431a"/>
<rect x="230.20" y="417.79" width="7.50" height="2.68" fill="#f9a01b"/>
<rect x="221.00" y="419.87" width="7.30" height="2.68" fill="#2d2a8e"/>
<rect x="230.20" y="419.87" width="7.50" height="2.68" fill="#1c93c7"/>
<rect x="221.00" y="421.95" width="7.30" height="2.68" fill="#2d2a8e"/>
<rect x="230.20" y="421.95" width="7.50" height="2.68" fill="#1c93c7"/>
<rect x="221.00" y="424.03" width="7.30" height="2.68" fill="#2d2a8e"/>
<rect x="230.20" y="424.03" width="7.50" height="2.68" fill="#b3daee"/>
<rect x="221.00" y="426.11" width="7.30" height="2.68" fill="#2d2a8e"/>
<rect x="230.20" y="426.11" width="7.50" height="2.68" fill="#b3daee"/>
<rect x="221.00" y="428.20" width="7.30" height="2.68" fill="#2d2a8e"/>
<rect x="230.20" y="428.20" width="7.50" height="2.68" fill="#b3daee"/>
<rect x="221.00" y="430.28" width="7.30" height="2.68" fill="#2d2a8e"/>
<rect x="230.20" y="430.28" width="7.50" height="2.68" fill="#b3daee"/>
<rect x="221.00" y="432.36" width="7.30" height="2.68" fill="#2d2a8e"/>
<rect x="230.20" y="432.36" width="7.50" height="2.68" fill="#1c93c7"/>
<rect x="221.00" y="434.44" width="7.30" height="2.68" fill="#2d2a8e"/>
<rect x="230.20" y="434.44" width="7.50" height="2.68" fill="#b3daee"/>
<rect x="221.00" y="436.52" width="7.30" height="2.08" fill="#2d2a8e"/>
<rect x="230.20" y="436.52" width="7.50" height="2.08" fill="#1c93c7"/>
<rect x="245.00" y="230.50" width="41.00" height="208.10" fill="#ebebeb"/>
<rect x="290.40" y="230.50" width="14.10" height="208.10" fill="#ebebeb"/>
<rect x="245.00" y="230.42" width="32.01" height="2.12" fill="#111"/>
<rect x="245.00" y="232.04" width="22.59" height="3.86" fill="#111"/>
<rect x="245.00" y="235.40" width="13.84" height="4.13" fill="#111"/>
<rect x="245.00" y="239.04" width="22.59" height="2.25" fill="#111"/>
<rect x="245.00" y="240.79" width="18.55" height="1.85" fill="#111"/>
<rect x="245.00" y="242.13" width="9.13" height="6.56" fill="#111"/>
<rect x="245.00" y="248.19" width="13.84" height="3.19" fill="#111"/>
<rect x="245.00" y="250.88" width="18.55" height="2.52" fill="#111"/>
<rect x="245.00" y="252.90" width="23.26" height="2.25" fill="#111"/>
<rect x="245.00" y="254.65" width="36.05" height="2.38" fill="#111"/>
<rect x="245.00" y="256.53" width="27.97" height="2.25" fill="#111"/>
<rect x="245.00" y="258.28" width="40.76" height="12.61" fill="#111"/>
<rect x="245.00" y="270.40" width="36.05" height="2.52" fill="#111"/>
<rect x="245.00" y="272.41" width="13.84" height="2.52" fill="#111"/>
<rect x="245.00" y="274.43" width="22.59" height="2.52" fill="#111"/>
<rect x="245.00" y="276.45" width="27.30" height="2.12" fill="#111"/>
<rect x="245.00" y="278.07" width="9.13" height="2.25" fill="#111"/>
<rect x="245.00" y="279.82" width="17.88" height="2.52" fill="#111"/>
<rect x="245.00" y="281.84" width="40.76" height="3.86" fill="#111"/>
<rect x="245.00" y="285.20" width="27.30" height="2.52" fill="#111"/>
<rect x="245.00" y="287.22" width="22.59" height="2.52" fill="#111"/>
<rect x="245.00" y="289.24" width="18.55" height="2.52" fill="#111"/>
<rect x="245.00" y="291.26" width="22.59" height="2.52" fill="#111"/>
<rect x="245.00" y="293.28" width="13.84" height="2.52" fill="#111"/>
<rect x="245.00" y="295.29" width="9.13" height="5.88" fill="#111"/>
<rect x="245.00" y="300.68" width="13.84" height="2.52" fill="#111"/>
<rect x="245.00" y="300.00" width="13.84" height="2.92" fill="#111"/>
<rect x="245.00" y="302.42" width="17.88" height="4.13" fill="#111"/>
<rect x="245.00" y="306.06" width="4.42" height="8.98" fill="#111"/>
<rect x="245.00" y="314.54" width="9.13" height="2.79" fill="#111"/>
<rect x="245.00" y="316.82" width="4.42" height="3.86" fill="#111"/>
<rect x="245.00" y="322.61" width="4.42" height="2.79" fill="#111"/>
<rect x="245.00" y="324.90" width="9.13" height="2.52" fill="#111"/>
<rect x="245.00" y="326.92" width="4.42" height="2.12" fill="#111"/>
<rect x="245.00" y="328.53" width="9.13" height="3.60" fill="#111"/>
<rect x="245.00" y="331.63" width="4.42" height="28.76" fill="#111"/>
<rect x="245.00" y="363.93" width="4.42" height="3.86" fill="#111"/>
<rect x="245.00" y="371.33" width="4.42" height="7.90" fill="#111"/>
<rect x="245.00" y="383.45" width="4.42" height="7.09" fill="#111"/>
<rect x="245.00" y="392.79" width="4.42" height="9.25" fill="#111"/>
<rect x="245.00" y="401.53" width="9.13" height="4.27" fill="#111"/>
<rect x="245.00" y="405.30" width="4.42" height="14.90" fill="#111"/>
<rect x="245.00" y="422.40" width="4.42" height="1.85" fill="#111"/>
<rect x="245.00" y="425.76" width="4.42" height="12.84" fill="#111"/>
<rect x="290.40" y="265.00" width="3.90" height="5.60" fill="#161616"/>
<rect x="294.30" y="267.30" width="9.50" height="1.20" fill="#161616"/>
<rect x="315.30" y="230.50" width="52.90" height="73.14" fill="#20a67a"/>
<rect x="315.30" y="230.50" width="11.14" height="16.65" fill="#1e9c96"/>
<rect x="315.30" y="247.15" width="6.13" height="6.54" fill="#2880a5"/>
<rect x="321.43" y="247.15" width="5.01" height="6.54" fill="#208ca0"/>
<rect x="315.30" y="253.39" width="6.13" height="6.54" fill="#277ea5"/>
<rect x="321.43" y="253.39" width="5.01" height="6.54" fill="#208ca0"/>
<rect x="315.30" y="259.63" width="6.13" height="6.54" fill="#277da5"/>
<rect x="321.43" y="259.63" width="5.01" height="6.54" fill="#208ca0"/>
<rect x="315.30" y="265.88" width="6.13" height="6.54" fill="#277ca6"/>
<rect x="321.43" y="265.88" width="5.01" height="6.54" fill="#208ca0"/>
<rect x="315.30" y="272.12" width="6.13" height="6.54" fill="#277ba6"/>
<rect x="321.43" y="272.12" width="5.01" height="6.54" fill="#208ca0"/>
<rect x="315.30" y="278.36" width="6.13" height="6.54" fill="#267aa6"/>
<rect x="321.43" y="278.36" width="5.01" height="6.54" fill="#208ca0"/>
<rect x="315.30" y="284.61" width="6.13" height="6.54" fill="#2679a7"/>
<rect x="321.43" y="284.61" width="5.01" height="6.54" fill="#208ca0"/>
<rect x="315.30" y="290.85" width="6.13" height="6.54" fill="#2678a7"/>
<rect x="321.43" y="290.85" width="5.01" height="6.54" fill="#208ca0"/>
<rect x="315.30" y="297.09" width="6.13" height="6.54" fill="#2677a7"/>
<rect x="321.43" y="297.09" width="5.01" height="6.54" fill="#208ca0"/>
<rect x="326.44" y="230.50" width="5.57" height="73.14" fill="#2aac78"/>
<rect x="315.30" y="247.15" width="1.90" height="56.49" fill="#481666"/>
<rect x="315.30" y="240.91" width="1.60" height="6.44" fill="#325a96"/>
<rect x="315.30" y="303.34" width="52.90" height="58.57" fill="#1a9b96"/>
<rect x="334.79" y="303.34" width="6.68" height="58.57" fill="#1ea584"/>
<rect x="315.30" y="303.34" width="11.14" height="58.57" fill="#34ac76"/>
<rect x="326.44" y="303.34" width="5.57" height="58.57" fill="#1ea08c"/>
<rect x="315.30" y="361.60" width="52.90" height="77.00" fill="#20a580"/>
<rect x="316.97" y="361.60" width="12.25" height="77.00" fill="#30ae76"/>
<rect x="315.30" y="361.60" width="1.50" height="77.00" fill="#324b91"/>
<rect x="317.60" y="304.00" width="1.80" height="56.00" fill="#a0d246"/>
<rect x="317.60" y="306.00" width="2.60" height="3.00" fill="#e8e237"/>
<rect x="317.80" y="311.50" width="5.80" height="4.50" fill="#e8e237"/>
<rect x="319.50" y="316.00" width="5.50" height="2.50" fill="#a0d246"/>
<rect x="317.60" y="320.00" width="2.80" height="7.00" fill="#e8e237"/>
<rect x="320.40" y="323.00" width="3.60" height="2.50" fill="#a0d246"/>
<rect x="317.60" y="330.00" width="2.00" height="6.00" fill="#a0d246"/>
<rect x="321.00" y="305.00" width="2.60" height="2.00" fill="#69c362"/>
<rect x="323.00" y="309.00" width="3.00" height="2.00" fill="#69c362"/>
<rect x="317.80" y="348.50" width="3.80" height="10.50" fill="#e8e237"/>
<rect x="321.60" y="344.00" width="2.40" height="5.00" fill="#a0d246"/>
<rect x="322.00" y="351.00" width="2.50" height="3.00" fill="#69c362"/>
<rect x="317.60" y="338.00" width="1.80" height="6.00" fill="#e8e237"/>
<rect x="318.00" y="365.50" width="2.50" height="4.50" fill="#a0d246"/>
<rect x="318.00" y="372.00" width="1.80" height="2.00" fill="#69c362"/>
<rect x="318.50" y="395.00" width="1.50" height="2.00" fill="#69c362"/>
<rect x="318.00" y="408.00" width="2.00" height="2.50" fill="#a0d246"/>
<rect x="321.50" y="411.50" width="2.00" height="2.00" fill="#69c362"/>
<rect x="318.00" y="420.00" width="1.60" height="2.00" fill="#69c362"/>
<rect x="318.00" y="428.00" width="1.60" height="2.00" fill="#69c362"/>
<rect x="331.73" y="230.50" width="2.78" height="208.10" fill="#d8e22a"/>
<rect x="331.73" y="303.34" width="2.78" height="2.08" fill="#96d04b"/>
<rect x="331.73" y="307.50" width="2.78" height="2.08" fill="#96d04b"/>
<rect x="331.73" y="309.58" width="2.78" height="2.08" fill="#c4de3a"/>
<rect x="331.73" y="313.74" width="2.78" height="2.08" fill="#c4de3a"/>
<rect x="331.73" y="315.82" width="2.78" height="2.08" fill="#96d04b"/>
<rect x="331.73" y="319.98" width="2.78" height="2.08" fill="#96d04b"/>
<rect x="331.73" y="322.06" width="2.78" height="2.08" fill="#c4de3a"/>
<rect x="331.73" y="326.23" width="2.78" height="2.08" fill="#c4de3a"/>
<rect x="331.73" y="328.31" width="2.78" height="2.08" fill="#96d04b"/>
<rect x="331.73" y="332.47" width="2.78" height="2.08" fill="#96d04b"/>
<rect x="331.73" y="334.55" width="2.78" height="2.08" fill="#c4de3a"/>
<rect x="331.73" y="338.71" width="2.78" height="2.08" fill="#c4de3a"/>
<rect x="331.73" y="340.79" width="2.78" height="2.08" fill="#96d04b"/>
<rect x="331.73" y="344.96" width="2.78" height="2.08" fill="#96d04b"/>
<rect x="331.73" y="347.04" width="2.78" height="2.08" fill="#c4de3a"/>
<rect x="331.73" y="351.20" width="2.78" height="2.08" fill="#c4de3a"/>
<rect x="331.73" y="353.28" width="2.78" height="2.08" fill="#96d04b"/>
<rect x="331.73" y="357.44" width="2.78" height="2.08" fill="#96d04b"/>
<rect x="331.73" y="359.52" width="2.78" height="2.08" fill="#c4de3a"/>
<rect x="363.75" y="230.50" width="2.51" height="72.84" fill="#268296"/>
<rect x="363.75" y="303.34" width="2.51" height="135.26" fill="#248794"/>
<rect x="366.11" y="230.50" width="2.09" height="208.10" fill="#4c126a"/>
<rect x="340.36" y="315.82" width="2.78" height="2.08" fill="#1c9e92"/>
<rect x="357.06" y="249.23" width="2.78" height="2.08" fill="#21a47f"/>
<rect x="357.06" y="245.07" width="2.78" height="2.08" fill="#21a57e"/>
<rect x="351.49" y="344.96" width="2.78" height="2.08" fill="#189898"/>
<rect x="351.49" y="376.17" width="2.78" height="2.08" fill="#1da083"/>
<rect x="343.14" y="261.72" width="2.78" height="2.08" fill="#20a47f"/>
<rect x="334.79" y="334.55" width="2.78" height="2.08" fill="#189897"/>
<rect x="345.93" y="265.88" width="2.78" height="2.08" fill="#24aa7b"/>
<rect x="359.85" y="261.72" width="2.78" height="2.08" fill="#25ab7a"/>
<rect x="340.36" y="411.55" width="2.78" height="2.08" fill="#1da182"/>
<rect x="343.14" y="399.06" width="2.78" height="2.08" fill="#21a77e"/>
<rect x="337.57" y="419.87" width="2.78" height="2.08" fill="#1da183"/>
<rect x="357.06" y="361.60" width="2.78" height="2.08" fill="#22a97c"/>
<rect x="359.85" y="353.28" width="2.78" height="2.08" fill="#1b9e93"/>
<rect x="340.36" y="295.01" width="2.78" height="2.08" fill="#21a57e"/>
<rect x="357.06" y="309.58" width="2.78" height="2.08" fill="#1c9f92"/>
<rect x="354.28" y="424.03" width="2.78" height="2.08" fill="#22a87c"/>
<rect x="337.57" y="249.23" width="2.78" height="2.08" fill="#24aa7b"/>
<rect x="340.36" y="319.98" width="2.78" height="2.08" fill="#1b9e93"/>
<rect x="337.57" y="407.39" width="2.78" height="2.08" fill="#21a87d"/>
<rect x="359.85" y="322.06" width="2.78" height="2.08" fill="#1c9e93"/>
<rect x="337.57" y="351.20" width="2.78" height="2.08" fill="#179699"/>
<rect x="337.57" y="355.36" width="2.78" height="2.08" fill="#179699"/>
<rect x="359.85" y="311.66" width="2.78" height="2.08" fill="#1b9d93"/>
<rect x="348.71" y="332.47" width="2.78" height="2.08" fill="#179699"/>
<rect x="340.36" y="324.15" width="2.78" height="2.08" fill="#179798"/>
<rect x="345.93" y="286.69" width="2.78" height="2.08" fill="#20a380"/>
<rect x="351.49" y="334.55" width="2.78" height="2.08" fill="#1b9d94"/>
<rect x="351.49" y="349.12" width="2.78" height="2.08" fill="#1c9f92"/>
<rect x="357.06" y="344.96" width="2.78" height="2.08" fill="#1c9f92"/>
<rect x="351.49" y="324.15" width="2.78" height="2.08" fill="#189897"/>
<rect x="340.36" y="276.28" width="2.78" height="2.08" fill="#20a480"/>
<rect x="354.28" y="232.58" width="2.78" height="2.08" fill="#21a57f"/>
<rect x="340.36" y="230.50" width="2.78" height="2.08" fill="#25ab7a"/>
<rect x="359.85" y="392.82" width="2.78" height="2.08" fill="#22a97c"/>
<rect x="357.06" y="413.63" width="2.78" height="2.08" fill="#1da182"/>
<rect x="357.06" y="436.52" width="2.78" height="2.08" fill="#21a87d"/>
<rect x="337.57" y="334.55" width="2.78" height="2.08" fill="#1c9e92"/>
<rect x="343.14" y="245.07" width="2.78" height="2.08" fill="#20a380"/>
<rect x="340.36" y="347.04" width="2.78" height="2.08" fill="#189798"/>
<rect x="337.57" y="242.99" width="2.78" height="2.08" fill="#20a47f"/>
<rect x="337.57" y="372.01" width="2.78" height="2.08" fill="#22a87c"/>
<rect x="343.14" y="249.23" width="2.78" height="2.08" fill="#24aa7b"/>
<rect x="348.71" y="297.09" width="2.78" height="2.08" fill="#25ab7a"/>
<rect x="354.28" y="259.63" width="2.78" height="2.08" fill="#25ab7a"/>
<rect x="337.57" y="311.66" width="2.78" height="2.08" fill="#189897"/>
<rect x="345.93" y="319.98" width="2.78" height="2.08" fill="#1c9f92"/>
<rect x="357.06" y="272.12" width="2.78" height="2.08" fill="#21a57f"/>
<rect x="348.71" y="369.93" width="2.78" height="2.08" fill="#1da083"/>
<rect x="357.06" y="236.74" width="2.78" height="2.08" fill="#25ac79"/>
<rect x="345.93" y="253.39" width="2.78" height="2.08" fill="#25ac79"/>
<rect x="343.14" y="324.15" width="2.78" height="2.08" fill="#1c9e92"/>
<rect x="343.14" y="392.82" width="2.78" height="2.08" fill="#1da083"/>
<rect x="343.14" y="426.11" width="2.78" height="2.08" fill="#1da182"/>
<rect x="334.79" y="324.15" width="2.78" height="2.08" fill="#179699"/>
<rect x="345.93" y="355.36" width="2.78" height="2.08" fill="#179699"/>
<rect x="354.28" y="322.06" width="2.78" height="2.08" fill="#1c9f92"/>
<rect x="337.57" y="326.23" width="2.78" height="2.08" fill="#189897"/>
<rect x="343.14" y="355.36" width="2.78" height="2.08" fill="#1b9d93"/>
<rect x="359.85" y="394.90" width="2.78" height="2.08" fill="#1da182"/>
<rect x="348.71" y="403.22" width="2.78" height="2.08" fill="#1da083"/>
<rect x="351.49" y="261.72" width="2.78" height="2.08" fill="#20a47f"/>
<rect x="351.49" y="276.28" width="2.78" height="2.08" fill="#24aa7b"/>
<rect x="351.49" y="421.95" width="2.78" height="2.08" fill="#21a87d"/>
<rect x="340.36" y="251.31" width="2.78" height="2.08" fill="#20a380"/>
<rect x="340.36" y="236.74" width="2.78" height="2.08" fill="#25ac79"/>
<rect x="359.85" y="267.96" width="2.78" height="2.08" fill="#25ab79"/>
<rect x="340.36" y="322.06" width="2.78" height="2.08" fill="#189897"/>
<rect x="337.57" y="421.95" width="2.78" height="2.08" fill="#1ea182"/>
<rect x="343.14" y="280.44" width="2.78" height="2.08" fill="#21a57f"/>
<rect x="357.06" y="307.50" width="2.78" height="2.08" fill="#179699"/>
<rect x="345.93" y="315.82" width="2.78" height="2.08" fill="#1c9f92"/>
<rect x="348.71" y="245.07" width="2.78" height="2.08" fill="#25ab79"/>
<rect x="351.49" y="367.85" width="2.78" height="2.08" fill="#1da182"/>
<rect x="357.06" y="369.93" width="2.78" height="2.08" fill="#1da083"/>
<rect x="340.36" y="436.52" width="2.78" height="2.08" fill="#1da083"/>
<rect x="340.36" y="270.04" width="2.78" height="2.08" fill="#20a47f"/>
<rect x="337.57" y="421.95" width="2.78" height="2.08" fill="#1ea282"/>
<rect x="357.06" y="367.85" width="2.78" height="2.08" fill="#22a97c"/>
<rect x="357.06" y="257.55" width="2.78" height="2.08" fill="#21a57f"/>
<rect x="334.79" y="303.34" width="2.78" height="2.08" fill="#179798"/>
<rect x="334.79" y="378.25" width="2.78" height="2.08" fill="#1ea182"/>
<rect x="357.06" y="392.82" width="2.78" height="2.08" fill="#1da083"/>
<rect x="357.06" y="349.12" width="2.78" height="2.08" fill="#1c9e93"/>
<rect x="357.06" y="295.01" width="2.78" height="2.08" fill="#25ac79"/>
<rect x="354.28" y="282.53" width="2.78" height="2.08" fill="#21a47f"/>
<rect x="354.28" y="334.55" width="2.78" height="2.08" fill="#1b9d94"/>
<rect x="351.49" y="292.93" width="2.78" height="2.08" fill="#21a57f"/>
<rect x="337.57" y="309.58" width="2.78" height="2.08" fill="#179699"/>
<rect x="348.71" y="401.14" width="2.78" height="2.08" fill="#1ea282"/>
<rect x="354.28" y="265.88" width="2.78" height="2.08" fill="#20a380"/>
<rect x="351.49" y="255.47" width="2.78" height="2.08" fill="#24aa7b"/>
<rect x="343.14" y="407.39" width="2.78" height="2.08" fill="#1da083"/>
<rect x="351.49" y="365.76" width="2.78" height="2.08" fill="#21a87d"/>
<rect x="348.71" y="324.15" width="2.78" height="2.08" fill="#179699"/>
<rect x="348.71" y="234.66" width="2.78" height="2.08" fill="#24ab7a"/>
<rect x="351.49" y="234.66" width="2.78" height="2.08" fill="#25ab7a"/>
<rect x="357.06" y="307.50" width="2.78" height="2.08" fill="#189897"/>
<rect x="337.57" y="290.85" width="2.78" height="2.08" fill="#21a57f"/>
<rect x="340.36" y="240.91" width="2.78" height="2.08" fill="#25ac79"/>
<rect x="345.93" y="342.87" width="2.78" height="2.08" fill="#1b9d94"/>
<rect x="359.85" y="365.76" width="2.78" height="2.08" fill="#22a97c"/>
<rect x="345.93" y="253.39" width="2.78" height="2.08" fill="#20a380"/>
<rect x="351.49" y="278.36" width="2.78" height="2.08" fill="#21a57f"/>
<rect x="337.57" y="234.66" width="2.78" height="2.08" fill="#24aa7b"/>
<rect x="337.57" y="288.77" width="2.78" height="2.08" fill="#25ac79"/>
<rect x="334.79" y="351.20" width="2.78" height="2.08" fill="#1c9f92"/>
<rect x="345.93" y="340.79" width="2.78" height="2.08" fill="#189897"/>
<rect x="343.14" y="417.79" width="2.78" height="2.08" fill="#1da083"/>
<rect x="334.79" y="299.17" width="2.78" height="2.08" fill="#21a57f"/>
<rect x="345.93" y="311.66" width="2.78" height="2.08" fill="#189898"/>
<rect x="340.36" y="363.68" width="2.78" height="2.08" fill="#21a87d"/>
<rect x="345.93" y="234.66" width="2.78" height="2.08" fill="#21a57e"/>
<rect x="357.06" y="424.03" width="2.78" height="2.08" fill="#1da182"/>
<rect x="354.28" y="295.01" width="2.78" height="2.08" fill="#20a480"/>
<rect x="351.49" y="403.22" width="2.78" height="2.08" fill="#22a87d"/>
<rect x="357.06" y="334.55" width="2.78" height="2.08" fill="#1c9f92"/>
<rect x="348.71" y="290.85" width="2.78" height="2.08" fill="#20a380"/>
<rect x="340.36" y="417.79" width="2.78" height="2.08" fill="#22a97c"/>
<rect x="340.36" y="242.99" width="2.78" height="2.08" fill="#21a57e"/>
<rect x="345.93" y="426.11" width="2.78" height="2.08" fill="#21a77e"/>
<rect x="351.49" y="251.31" width="2.78" height="2.08" fill="#25ab79"/>
<rect x="345.93" y="413.63" width="2.78" height="2.08" fill="#1da182"/>
<rect x="345.93" y="272.12" width="2.78" height="2.08" fill="#24aa7b"/>
<rect x="348.71" y="326.23" width="2.78" height="2.08" fill="#1b9d93"/>
<rect x="343.14" y="311.66" width="2.78" height="2.08" fill="#1b9d93"/>
<rect x="351.49" y="317.90" width="2.78" height="2.08" fill="#179798"/>
<rect x="343.14" y="363.68" width="2.78" height="2.08" fill="#1da182"/>
<rect x="337.57" y="230.50" width="2.78" height="2.08" fill="#25ac79"/>
<rect x="351.49" y="267.96" width="2.78" height="2.08" fill="#21a47f"/>
<rect x="345.93" y="309.58" width="2.78" height="2.08" fill="#189897"/>
<rect x="340.36" y="369.93" width="2.78" height="2.08" fill="#22a97c"/>
<rect x="354.28" y="421.95" width="2.78" height="2.08" fill="#1ea282"/>
<rect x="340.36" y="394.90" width="2.78" height="2.08" fill="#1da083"/>
<rect x="357.06" y="419.87" width="2.78" height="2.08" fill="#22a97c"/>
<rect x="340.36" y="363.68" width="2.78" height="2.08" fill="#1da083"/>
<rect x="343.14" y="384.49" width="2.78" height="2.08" fill="#1ea281"/>
<rect x="348.71" y="265.88" width="2.78" height="2.08" fill="#21a47f"/>
<rect x="357.06" y="349.12" width="2.78" height="2.08" fill="#179799"/>
<rect x="357.06" y="396.98" width="2.78" height="2.08" fill="#1da182"/>
<rect x="360.00" y="293.00" width="5.20" height="1.90" fill="#bee496"/>
<rect x="357.60" y="359.00" width="7.70" height="5.00" fill="#e8e237"/>
<rect x="355.50" y="359.80" width="2.10" height="3.20" fill="#82cd5a"/>
<rect x="359.00" y="303.80" width="3.00" height="1.00" fill="#288296"/>
<rect x="349.50" y="349.00" width="2.50" height="1.00" fill="#287891"/>
<rect x="378.00" y="230.50" width="52.60" height="208.10" fill="#ebebeb"/>
<rect x="378.00" y="230.42" width="37.72" height="2.79" fill="#111"/>
<rect x="378.00" y="232.71" width="35.70" height="4.54" fill="#111"/>
<rect x="378.00" y="236.75" width="34.36" height="3.19" fill="#111"/>
<rect x="378.00" y="239.44" width="22.92" height="2.52" fill="#111"/>
<rect x="378.00" y="241.46" width="31.67" height="2.12" fill="#111"/>
<rect x="378.00" y="243.07" width="20.90" height="2.25" fill="#111"/>
<rect x="378.00" y="244.82" width="28.97" height="5.21" fill="#111"/>
<rect x="378.00" y="249.53" width="24.94" height="2.52" fill="#111"/>
<rect x="378.00" y="251.55" width="26.28" height="3.19" fill="#111"/>
<rect x="378.00" y="254.24" width="31.67" height="2.52" fill="#111"/>
<rect x="378.00" y="256.26" width="29.65" height="2.52" fill="#111"/>
<rect x="378.00" y="258.28" width="24.94" height="2.52" fill="#111"/>
<rect x="378.00" y="260.30" width="28.97" height="2.52" fill="#111"/>
<rect x="378.00" y="262.32" width="23.59" height="2.52" fill="#111"/>
<rect x="378.00" y="264.34" width="28.97" height="2.52" fill="#111"/>
<rect x="378.00" y="266.36" width="26.96" height="2.52" fill="#111"/>
<rect x="378.00" y="268.38" width="28.97" height="2.52" fill="#111"/>
<rect x="378.00" y="270.40" width="23.59" height="2.52" fill="#111"/>
<rect x="378.00" y="272.41" width="21.57" height="2.52" fill="#111"/>
<rect x="378.00" y="274.43" width="24.94" height="2.52" fill="#111"/>
<rect x="378.00" y="276.45" width="20.23" height="2.52" fill="#111"/>
<rect x="378.00" y="278.47" width="18.21" height="2.52" fill="#111"/>
<rect x="378.00" y="280.49" width="24.26" height="1.85" fill="#111"/>
<rect x="378.00" y="281.84" width="14.84" height="2.52" fill="#111"/>
<rect x="378.00" y="283.85" width="20.23" height="2.52" fill="#111"/>
<rect x="378.00" y="285.87" width="16.19" height="1.85" fill="#111"/>
<rect x="378.00" y="287.22" width="6.09" height="2.12" fill="#111"/>
<rect x="378.00" y="288.83" width="16.19" height="2.92" fill="#111"/>
<rect x="378.00" y="291.26" width="13.50" height="2.52" fill="#111"/>
<rect x="378.00" y="293.28" width="14.84" height="2.52" fill="#111"/>
<rect x="378.00" y="295.29" width="24.94" height="2.12" fill="#111"/>
<rect x="378.00" y="296.91" width="16.19" height="2.25" fill="#111"/>
<rect x="378.00" y="298.66" width="22.92" height="2.52" fill="#111"/>
<rect x="378.00" y="300.68" width="20.90" height="3.19" fill="#111"/>
<rect x="378.00" y="303.37" width="45.80" height="2.52" fill="#111"/>
<rect x="378.00" y="305.39" width="47.14" height="3.86" fill="#111"/>
<rect x="378.00" y="308.75" width="42.43" height="2.12" fill="#111"/>
<rect x="378.00" y="310.00" width="47.78" height="3.38" fill="#111"/>
<rect x="378.00" y="312.88" width="50.66" height="4.34" fill="#111"/>
<rect x="378.00" y="316.71" width="47.78" height="5.29" fill="#111"/>
<rect x="378.00" y="321.51" width="45.87" height="5.29" fill="#111"/>
<rect x="378.00" y="326.30" width="42.99" height="5.29" fill="#111"/>
<rect x="378.00" y="331.10" width="42.03" height="5.29" fill="#111"/>
<rect x="378.00" y="335.89" width="42.99" height="5.29" fill="#111"/>
<rect x="378.00" y="340.69" width="43.95" height="8.17" fill="#111"/>
<rect x="378.00" y="348.36" width="42.99" height="4.34" fill="#111"/>
<rect x="378.00" y="352.19" width="46.82" height="4.34" fill="#111"/>
<rect x="378.00" y="356.03" width="48.17" height="3.38" fill="#111"/>
<rect x="378.00" y="358.91" width="29.56" height="2.99" fill="#111"/>
<rect x="378.00" y="361.40" width="39.15" height="3.76" fill="#111"/>
<rect x="378.00" y="364.66" width="43.95" height="3.38" fill="#111"/>
<rect x="378.00" y="367.54" width="42.03" height="4.34" fill="#111"/>
<rect x="378.00" y="371.37" width="41.07" height="5.29" fill="#111"/>
<rect x="378.00" y="376.17" width="39.15" height="4.34" fill="#111"/>
<rect x="378.00" y="380.00" width="34.36" height="2.99" fill="#111"/>
<rect x="378.00" y="382.50" width="39.15" height="3.76" fill="#111"/>
<rect x="378.00" y="385.76" width="37.24" height="4.34" fill="#111"/>
<rect x="378.00" y="389.59" width="36.28" height="3.38" fill="#111"/>
<rect x="378.00" y="392.47" width="39.73" height="3.38" fill="#111"/>
<rect x="378.00" y="395.35" width="37.24" height="5.29" fill="#111"/>
<rect x="378.00" y="400.14" width="38.19" height="4.34" fill="#111"/>
<rect x="378.00" y="403.98" width="40.11" height="4.34" fill="#111"/>
<rect x="378.00" y="407.81" width="41.65" height="3.38" fill="#111"/>
<rect x="378.00" y="410.69" width="40.11" height="4.34" fill="#111"/>
<rect x="378.00" y="414.53" width="41.07" height="5.29" fill="#111"/>
<rect x="378.00" y="419.32" width="43.95" height="3.38" fill="#111"/>
<rect x="378.00" y="422.20" width="40.11" height="4.34" fill="#111"/>
<rect x="378.00" y="426.03" width="42.03" height="12.57" fill="#111"/>
<rect x="443.00" y="230.50" width="52.40" height="208.10" fill="#ebebeb"/>
<rect x="443.00" y="230.42" width="13.84" height="2.12" fill="#111"/>
<rect x="443.00" y="232.04" width="19.23" height="2.12" fill="#111"/>
<rect x="443.00" y="233.65" width="21.92" height="2.25" fill="#111"/>
<rect x="443.00" y="235.40" width="19.23" height="2.25" fill="#111"/>
<rect x="443.00" y="237.15" width="5.09" height="2.38" fill="#111"/>
<rect x="443.00" y="239.04" width="6.44" height="2.92" fill="#111"/>
<rect x="443.00" y="241.46" width="7.79" height="7.23" fill="#111"/>
<rect x="443.00" y="248.19" width="8.46" height="2.52" fill="#111"/>
<rect x="443.00" y="250.21" width="16.53" height="2.52" fill="#111"/>
<rect x="443.00" y="252.23" width="10.48" height="2.52" fill="#111"/>
<rect x="443.00" y="254.24" width="19.23" height="2.52" fill="#111"/>
<rect x="443.00" y="256.26" width="15.86" height="4.54" fill="#111"/>
<rect x="443.00" y="260.30" width="19.23" height="2.52" fill="#111"/>
<rect x="443.00" y="262.32" width="27.30" height="2.52" fill="#111"/>
<rect x="443.00" y="264.34" width="40.76" height="2.12" fill="#111"/>
<rect x="443.00" y="265.95" width="49.51" height="1.85" fill="#111"/>
<rect x="443.00" y="267.30" width="42.78" height="2.25" fill="#111"/>
<rect x="443.00" y="269.05" width="27.30" height="2.52" fill="#111"/>
<rect x="443.00" y="271.07" width="21.92" height="2.12" fill="#111"/>
<rect x="443.00" y="272.68" width="32.69" height="2.25" fill="#111"/>
<rect x="443.00" y="274.43" width="21.92" height="2.25" fill="#111"/>
<rect x="443.00" y="276.18" width="27.30" height="2.38" fill="#111"/>
<rect x="443.00" y="278.07" width="24.61" height="2.25" fill="#111"/>
<rect x="443.00" y="279.82" width="49.51" height="2.25" fill="#111"/>
<rect x="443.00" y="281.57" width="24.61" height="2.12" fill="#111"/>
<rect x="443.00" y="283.18" width="19.23" height="2.52" fill="#111"/>
<rect x="443.00" y="285.20" width="15.86" height="2.52" fill="#111"/>
<rect x="443.00" y="287.22" width="11.82" height="2.52" fill="#111"/>
<rect x="443.00" y="289.24" width="16.53" height="2.25" fill="#111"/>
<rect x="443.00" y="290.99" width="13.17" height="3.46" fill="#111"/>
<rect x="443.00" y="293.95" width="8.46" height="2.52" fill="#111"/>
<rect x="443.00" y="295.97" width="5.09" height="2.52" fill="#111"/>
<rect x="443.00" y="297.99" width="10.48" height="2.52" fill="#111"/>
<rect x="443.00" y="300.01" width="16.53" height="2.52" fill="#111"/>
<rect x="443.00" y="302.02" width="10.48" height="2.52" fill="#111"/>
<rect x="443.00" y="304.04" width="2.40" height="2.52" fill="#111"/>
<rect x="443.00" y="306.06" width="8.46" height="2.12" fill="#111"/>
<rect x="443.00" y="307.68" width="2.40" height="2.92" fill="#111"/>
<rect x="443.00" y="310.00" width="7.47" height="3.38" fill="#111"/>
<rect x="443.00" y="312.88" width="10.34" height="8.17" fill="#111"/>
<rect x="443.00" y="320.55" width="16.10" height="4.34" fill="#111"/>
<rect x="443.00" y="324.38" width="10.34" height="4.34" fill="#111"/>
<rect x="443.00" y="328.22" width="7.47" height="4.34" fill="#111"/>
<rect x="443.00" y="332.06" width="8.43" height="3.38" fill="#111"/>
<rect x="443.00" y="334.93" width="5.55" height="3.38" fill="#111"/>
<rect x="443.00" y="337.81" width="8.04" height="4.34" fill="#111"/>
<rect x="443.00" y="341.65" width="5.55" height="7.21" fill="#111"/>
<rect x="443.00" y="348.36" width="8.04" height="4.34" fill="#111"/>
<rect x="443.00" y="352.19" width="4.59" height="7.21" fill="#111"/>
<rect x="443.00" y="358.91" width="2.67" height="11.05" fill="#111"/>
<rect x="443.00" y="369.46" width="4.59" height="3.38" fill="#111"/>
<rect x="443.00" y="372.33" width="5.55" height="6.25" fill="#111"/>
<rect x="443.00" y="378.09" width="3.63" height="4.34" fill="#111"/>
<rect x="443.00" y="381.92" width="5.55" height="5.29" fill="#111"/>
<rect x="443.00" y="386.72" width="8.04" height="3.38" fill="#111"/>
<rect x="443.00" y="389.59" width="5.55" height="3.38" fill="#111"/>
<rect x="443.00" y="392.47" width="4.59" height="8.17" fill="#111"/>
<rect x="443.00" y="400.14" width="7.47" height="3.38" fill="#111"/>
<rect x="443.00" y="403.02" width="10.73" height="3.38" fill="#111"/>
<rect x="443.00" y="405.90" width="8.04" height="3.38" fill="#111"/>
<rect x="443.00" y="408.77" width="10.73" height="3.38" fill="#111"/>
<rect x="443.00" y="411.65" width="5.55" height="6.25" fill="#111"/>
<rect x="443.00" y="417.40" width="8.04" height="2.80" fill="#111"/>
<rect x="443.00" y="419.70" width="19.55" height="2.99" fill="#111"/>
<rect x="443.00" y="422.20" width="10.73" height="3.38" fill="#111"/>
<rect x="443.00" y="425.07" width="8.43" height="2.80" fill="#111"/>
<rect x="443.00" y="427.38" width="10.73" height="2.99" fill="#111"/>
<rect x="443.00" y="429.87" width="8.04" height="8.73" fill="#111"/>
<line x1="498.70" y1="231.54" x2="504.80" y2="231.54" stroke="#b4b4b4" stroke-width="1.4" stroke-dasharray="2.3 0.3 1.5 0.25 2 0.3 3 0.3"/>
<line x1="498.70" y1="233.62" x2="505.84" y2="233.62" stroke="#b4b4b4" stroke-width="1.4" stroke-dasharray="2.3 0.3 1.5 0.25 2 0.3 3 0.3"/>
<line x1="498.70" y1="235.70" x2="509.67" y2="235.70" stroke="#b4b4b4" stroke-width="1.4" stroke-dasharray="2.3 0.3 1.5 0.25 2 0.3 3 0.3"/>
<line x1="498.70" y1="237.78" x2="509.35" y2="237.78" stroke="#b4b4b4" stroke-width="1.4" stroke-dasharray="2.3 0.3 1.5 0.25 2 0.3 3 0.3"/>
<line x1="498.70" y1="239.86" x2="505.50" y2="239.86" stroke="#b4b4b4" stroke-width="1.4" stroke-dasharray="2.3 0.3 1.5 0.25 2 0.3 3 0.3"/>
<line x1="498.70" y1="241.95" x2="505.66" y2="241.95" stroke="#b4b4b4" stroke-width="1.4" stroke-dasharray="2.3 0.3 1.5 0.25 2 0.3 3 0.3"/>
<line x1="498.70" y1="244.03" x2="504.89" y2="244.03" stroke="#b4b4b4" stroke-width="1.4" stroke-dasharray="2.3 0.3 1.5 0.25 2 0.3 3 0.3"/>
<line x1="498.70" y1="246.11" x2="505.76" y2="246.11" stroke="#b4b4b4" stroke-width="1.4" stroke-dasharray="2.3 0.3 1.5 0.25 2 0.3 3 0.3"/>
<line x1="498.70" y1="248.19" x2="509.03" y2="248.19" stroke="#b4b4b4" stroke-width="1.4" stroke-dasharray="2.3 0.3 1.5 0.25 2 0.3 3 0.3"/>
<line x1="498.70" y1="250.27" x2="508.80" y2="250.27" stroke="#b4b4b4" stroke-width="1.4" stroke-dasharray="2.3 0.3 1.5 0.25 2 0.3 3 0.3"/>
<line x1="498.70" y1="252.35" x2="509.05" y2="252.35" stroke="#b4b4b4" stroke-width="1.4" stroke-dasharray="2.3 0.3 1.5 0.25 2 0.3 3 0.3"/>
<line x1="498.70" y1="254.43" x2="509.65" y2="254.43" stroke="#b4b4b4" stroke-width="1.4" stroke-dasharray="2.3 0.3 1.5 0.25 2 0.3 3 0.3"/>
<line x1="498.70" y1="256.51" x2="508.97" y2="256.51" stroke="#b4b4b4" stroke-width="1.4" stroke-dasharray="2.3 0.3 1.5 0.25 2 0.3 3 0.3"/>
<line x1="498.70" y1="258.59" x2="509.66" y2="258.59" stroke="#b4b4b4" stroke-width="1.4" stroke-dasharray="2.3 0.3 1.5 0.25 2 0.3 3 0.3"/>
<line x1="498.70" y1="260.67" x2="509.97" y2="260.67" stroke="#b4b4b4" stroke-width="1.4" stroke-dasharray="2.3 0.3 1.5 0.25 2 0.3 3 0.3"/>
<line x1="498.70" y1="262.76" x2="505.44" y2="262.76" stroke="#b4b4b4" stroke-width="1.4" stroke-dasharray="2.3 0.3 1.5 0.25 2 0.3 3 0.3"/>
<line x1="498.70" y1="264.84" x2="505.30" y2="264.84" stroke="#b4b4b4" stroke-width="1.4" stroke-dasharray="2.3 0.3 1.5 0.25 2 0.3 3 0.3"/>
<line x1="498.70" y1="266.92" x2="505.42" y2="266.92" stroke="#b4b4b4" stroke-width="1.4" stroke-dasharray="2.3 0.3 1.5 0.25 2 0.3 3 0.3"/>
<line x1="498.70" y1="269.00" x2="505.69" y2="269.00" stroke="#b4b4b4" stroke-width="1.4" stroke-dasharray="2.3 0.3 1.5 0.25 2 0.3 3 0.3"/>
<line x1="498.70" y1="271.08" x2="505.80" y2="271.08" stroke="#b4b4b4" stroke-width="1.4" stroke-dasharray="2.3 0.3 1.5 0.25 2 0.3 3 0.3"/>
<line x1="498.70" y1="273.16" x2="505.60" y2="273.16" stroke="#b4b4b4" stroke-width="1.4" stroke-dasharray="2.3 0.3 1.5 0.25 2 0.3 3 0.3"/>
<line x1="498.70" y1="275.24" x2="505.64" y2="275.24" stroke="#b4b4b4" stroke-width="1.4" stroke-dasharray="2.3 0.3 1.5 0.25 2 0.3 3 0.3"/>
<line x1="498.70" y1="277.32" x2="508.80" y2="277.32" stroke="#b4b4b4" stroke-width="1.4" stroke-dasharray="2.3 0.3 1.5 0.25 2 0.3 3 0.3"/>
<line x1="498.70" y1="279.40" x2="508.89" y2="279.40" stroke="#b4b4b4" stroke-width="1.4" stroke-dasharray="2.3 0.3 1.5 0.25 2 0.3 3 0.3"/>
<line x1="498.70" y1="281.48" x2="505.13" y2="281.48" stroke="#b4b4b4" stroke-width="1.4" stroke-dasharray="2.3 0.3 1.5 0.25 2 0.3 3 0.3"/>
<line x1="498.70" y1="283.57" x2="505.77" y2="283.57" stroke="#b4b4b4" stroke-width="1.4" stroke-dasharray="2.3 0.3 1.5 0.25 2 0.3 3 0.3"/>
<line x1="498.70" y1="285.65" x2="505.20" y2="285.65" stroke="#b4b4b4" stroke-width="1.4" stroke-dasharray="2.3 0.3 1.5 0.25 2 0.3 3 0.3"/>
<line x1="498.70" y1="287.73" x2="505.54" y2="287.73" stroke="#b4b4b4" stroke-width="1.4" stroke-dasharray="2.3 0.3 1.5 0.25 2 0.3 3 0.3"/>
<line x1="498.70" y1="289.81" x2="508.72" y2="289.81" stroke="#b4b4b4" stroke-width="1.4" stroke-dasharray="2.3 0.3 1.5 0.25 2 0.3 3 0.3"/>
<line x1="498.70" y1="291.89" x2="508.78" y2="291.89" stroke="#b4b4b4" stroke-width="1.4" stroke-dasharray="2.3 0.3 1.5 0.25 2 0.3 3 0.3"/>
<line x1="498.70" y1="293.97" x2="509.05" y2="293.97" stroke="#b4b4b4" stroke-width="1.4" stroke-dasharray="2.3 0.3 1.5 0.25 2 0.3 3 0.3"/>
<line x1="498.70" y1="296.05" x2="509.57" y2="296.05" stroke="#b4b4b4" stroke-width="1.4" stroke-dasharray="2.3 0.3 1.5 0.25 2 0.3 3 0.3"/>
<line x1="498.70" y1="298.13" x2="509.60" y2="298.13" stroke="#b4b4b4" stroke-width="1.4" stroke-dasharray="2.3 0.3 1.5 0.25 2 0.3 3 0.3"/>
<line x1="498.70" y1="300.21" x2="509.58" y2="300.21" stroke="#b4b4b4" stroke-width="1.4" stroke-dasharray="2.3 0.3 1.5 0.25 2 0.3 3 0.3"/>
<line x1="498.70" y1="302.29" x2="509.08" y2="302.29" stroke="#b4b4b4" stroke-width="1.4" stroke-dasharray="2.3 0.3 1.5 0.25 2 0.3 3 0.3"/>
<line x1="498.70" y1="304.38" x2="509.37" y2="304.38" stroke="#b4b4b4" stroke-width="1.4" stroke-dasharray="2.3 0.3 1.5 0.25 2 0.3 3 0.3"/>
<line x1="498.70" y1="306.46" x2="505.40" y2="306.46" stroke="#b4b4b4" stroke-width="1.4" stroke-dasharray="2.3 0.3 1.5 0.25 2 0.3 3 0.3"/>
<line x1="498.70" y1="308.54" x2="505.41" y2="308.54" stroke="#b4b4b4" stroke-width="1.4" stroke-dasharray="2.3 0.3 1.5 0.25 2 0.3 3 0.3"/>
<line x1="498.70" y1="310.62" x2="504.95" y2="310.62" stroke="#b4b4b4" stroke-width="1.4" stroke-dasharray="2.3 0.3 1.5 0.25 2 0.3 3 0.3"/>
<line x1="498.70" y1="312.70" x2="505.96" y2="312.70" stroke="#b4b4b4" stroke-width="1.4" stroke-dasharray="2.3 0.3 1.5 0.25 2 0.3 3 0.3"/>
<line x1="498.70" y1="314.78" x2="505.06" y2="314.78" stroke="#b4b4b4" stroke-width="1.4" stroke-dasharray="2.3 0.3 1.5 0.25 2 0.3 3 0.3"/>
<line x1="498.70" y1="316.86" x2="506.07" y2="316.86" stroke="#b4b4b4" stroke-width="1.4" stroke-dasharray="2.3 0.3 1.5 0.25 2 0.3 3 0.3"/>
<line x1="498.70" y1="318.94" x2="506.02" y2="318.94" stroke="#b4b4b4" stroke-width="1.4" stroke-dasharray="2.3 0.3 1.5 0.25 2 0.3 3 0.3"/>
<line x1="498.70" y1="321.02" x2="504.82" y2="321.02" stroke="#b4b4b4" stroke-width="1.4" stroke-dasharray="2.3 0.3 1.5 0.25 2 0.3 3 0.3"/>
<line x1="498.70" y1="323.10" x2="505.40" y2="323.10" stroke="#b4b4b4" stroke-width="1.4" stroke-dasharray="2.3 0.3 1.5 0.25 2 0.3 3 0.3"/>
<line x1="498.70" y1="325.19" x2="505.87" y2="325.19" stroke="#b4b4b4" stroke-width="1.4" stroke-dasharray="2.3 0.3 1.5 0.25 2 0.3 3 0.3"/>
<line x1="498.70" y1="327.27" x2="506.06" y2="327.27" stroke="#b4b4b4" stroke-width="1.4" stroke-dasharray="2.3 0.3 1.5 0.25 2 0.3 3 0.3"/>
<line x1="498.70" y1="329.35" x2="505.38" y2="329.35" stroke="#b4b4b4" stroke-width="1.4" stroke-dasharray="2.3 0.3 1.5 0.25 2 0.3 3 0.3"/>
<line x1="498.70" y1="331.43" x2="509.05" y2="331.43" stroke="#b4b4b4" stroke-width="1.4" stroke-dasharray="2.3 0.3 1.5 0.25 2 0.3 3 0.3"/>
<line x1="498.70" y1="333.51" x2="508.97" y2="333.51" stroke="#b4b4b4" stroke-width="1.4" stroke-dasharray="2.3 0.3 1.5 0.25 2 0.3 3 0.3"/>
<line x1="498.70" y1="335.59" x2="506.03" y2="335.59" stroke="#b4b4b4" stroke-width="1.4" stroke-dasharray="2.3 0.3 1.5 0.25 2 0.3 3 0.3"/>
<line x1="498.70" y1="337.67" x2="505.07" y2="337.67" stroke="#b4b4b4" stroke-width="1.4" stroke-dasharray="2.3 0.3 1.5 0.25 2 0.3 3 0.3"/>
<line x1="498.70" y1="339.75" x2="509.46" y2="339.75" stroke="#b4b4b4" stroke-width="1.4" stroke-dasharray="2.3 0.3 1.5 0.25 2 0.3 3 0.3"/>
<line x1="498.70" y1="341.83" x2="504.98" y2="341.83" stroke="#b4b4b4" stroke-width="1.4" stroke-dasharray="2.3 0.3 1.5 0.25 2 0.3 3 0.3"/>
<line x1="498.70" y1="343.91" x2="505.48" y2="343.91" stroke="#b4b4b4" stroke-width="1.4" stroke-dasharray="2.3 0.3 1.5 0.25 2 0.3 3 0.3"/>
<line x1="498.70" y1="346.00" x2="509.94" y2="346.00" stroke="#b4b4b4" stroke-width="1.4" stroke-dasharray="2.3 0.3 1.5 0.25 2 0.3 3 0.3"/>
<line x1="498.70" y1="348.08" x2="508.87" y2="348.08" stroke="#b4b4b4" stroke-width="1.4" stroke-dasharray="2.3 0.3 1.5 0.25 2 0.3 3 0.3"/>
<line x1="498.70" y1="350.16" x2="509.77" y2="350.16" stroke="#b4b4b4" stroke-width="1.4" stroke-dasharray="2.3 0.3 1.5 0.25 2 0.3 3 0.3"/>
<line x1="498.70" y1="352.24" x2="505.46" y2="352.24" stroke="#b4b4b4" stroke-width="1.4" stroke-dasharray="2.3 0.3 1.5 0.25 2 0.3 3 0.3"/>
<line x1="498.70" y1="354.32" x2="505.95" y2="354.32" stroke="#b4b4b4" stroke-width="1.4" stroke-dasharray="2.3 0.3 1.5 0.25 2 0.3 3 0.3"/>
<line x1="498.70" y1="356.40" x2="509.61" y2="356.40" stroke="#b4b4b4" stroke-width="1.4" stroke-dasharray="2.3 0.3 1.5 0.25 2 0.3 3 0.3"/>
<line x1="498.70" y1="358.48" x2="509.00" y2="358.48" stroke="#b4b4b4" stroke-width="1.4" stroke-dasharray="2.3 0.3 1.5 0.25 2 0.3 3 0.3"/>
<line x1="498.70" y1="360.56" x2="505.97" y2="360.56" stroke="#b4b4b4" stroke-width="1.4" stroke-dasharray="2.3 0.3 1.5 0.25 2 0.3 3 0.3"/>
<line x1="498.70" y1="362.64" x2="505.43" y2="362.64" stroke="#b4b4b4" stroke-width="1.4" stroke-dasharray="2.3 0.3 1.5 0.25 2 0.3 3 0.3"/>
<line x1="498.70" y1="364.72" x2="504.83" y2="364.72" stroke="#b4b4b4" stroke-width="1.4" stroke-dasharray="2.3 0.3 1.5 0.25 2 0.3 3 0.3"/>
<line x1="498.70" y1="366.81" x2="508.70" y2="366.81" stroke="#b4b4b4" stroke-width="1.4" stroke-dasharray="2.3 0.3 1.5 0.25 2 0.3 3 0.3"/>
<line x1="498.70" y1="368.89" x2="509.34" y2="368.89" stroke="#b4b4b4" stroke-width="1.4" stroke-dasharray="2.3 0.3 1.5 0.25 2 0.3 3 0.3"/>
<line x1="498.70" y1="370.97" x2="509.29" y2="370.97" stroke="#b4b4b4" stroke-width="1.4" stroke-dasharray="2.3 0.3 1.5 0.25 2 0.3 3 0.3"/>
<line x1="498.70" y1="373.05" x2="505.19" y2="373.05" stroke="#b4b4b4" stroke-width="1.4" stroke-dasharray="2.3 0.3 1.5 0.25 2 0.3 3 0.3"/>
<line x1="498.70" y1="375.13" x2="504.98" y2="375.13" stroke="#b4b4b4" stroke-width="1.4" stroke-dasharray="2.3 0.3 1.5 0.25 2 0.3 3 0.3"/>
<line x1="498.70" y1="377.21" x2="509.15" y2="377.21" stroke="#b4b4b4" stroke-width="1.4" stroke-dasharray="2.3 0.3 1.5 0.25 2 0.3 3 0.3"/>
<line x1="498.70" y1="379.29" x2="505.21" y2="379.29" stroke="#b4b4b4" stroke-width="1.4" stroke-dasharray="2.3 0.3 1.5 0.25 2 0.3 3 0.3"/>
<line x1="498.70" y1="381.37" x2="505.89" y2="381.37" stroke="#b4b4b4" stroke-width="1.4" stroke-dasharray="2.3 0.3 1.5 0.25 2 0.3 3 0.3"/>
<line x1="498.70" y1="383.45" x2="504.80" y2="383.45" stroke="#b4b4b4" stroke-width="1.4" stroke-dasharray="2.3 0.3 1.5 0.25 2 0.3 3 0.3"/>
<line x1="498.70" y1="385.53" x2="505.78" y2="385.53" stroke="#b4b4b4" stroke-width="1.4" stroke-dasharray="2.3 0.3 1.5 0.25 2 0.3 3 0.3"/>
<line x1="498.70" y1="387.62" x2="509.79" y2="387.62" stroke="#b4b4b4" stroke-width="1.4" stroke-dasharray="2.3 0.3 1.5 0.25 2 0.3 3 0.3"/>
<line x1="498.70" y1="389.70" x2="508.86" y2="389.70" stroke="#b4b4b4" stroke-width="1.4" stroke-dasharray="2.3 0.3 1.5 0.25 2 0.3 3 0.3"/>
<line x1="498.70" y1="391.78" x2="506.00" y2="391.78" stroke="#b4b4b4" stroke-width="1.4" stroke-dasharray="2.3 0.3 1.5 0.25 2 0.3 3 0.3"/>
<line x1="498.70" y1="393.86" x2="505.73" y2="393.86" stroke="#b4b4b4" stroke-width="1.4" stroke-dasharray="2.3 0.3 1.5 0.25 2 0.3 3 0.3"/>
<line x1="498.70" y1="395.94" x2="505.97" y2="395.94" stroke="#b4b4b4" stroke-width="1.4" stroke-dasharray="2.3 0.3 1.5 0.25 2 0.3 3 0.3"/>
<line x1="498.70" y1="398.02" x2="509.08" y2="398.02" stroke="#b4b4b4" stroke-width="1.4" stroke-dasharray="2.3 0.3 1.5 0.25 2 0.3 3 0.3"/>
<line x1="498.70" y1="400.10" x2="509.18" y2="400.10" stroke="#b4b4b4" stroke-width="1.4" stroke-dasharray="2.3 0.3 1.5 0.25 2 0.3 3 0.3"/>
<line x1="498.70" y1="402.18" x2="509.21" y2="402.18" stroke="#b4b4b4" stroke-width="1.4" stroke-dasharray="2.3 0.3 1.5 0.25 2 0.3 3 0.3"/>
<line x1="498.70" y1="404.26" x2="506.10" y2="404.26" stroke="#b4b4b4" stroke-width="1.4" stroke-dasharray="2.3 0.3 1.5 0.25 2 0.3 3 0.3"/>
<line x1="498.70" y1="406.34" x2="505.57" y2="406.34" stroke="#b4b4b4" stroke-width="1.4" stroke-dasharray="2.3 0.3 1.5 0.25 2 0.3 3 0.3"/>
<line x1="498.70" y1="408.43" x2="505.27" y2="408.43" stroke="#b4b4b4" stroke-width="1.4" stroke-dasharray="2.3 0.3 1.5 0.25 2 0.3 3 0.3"/>
<line x1="498.70" y1="410.51" x2="509.26" y2="410.51" stroke="#b4b4b4" stroke-width="1.4" stroke-dasharray="2.3 0.3 1.5 0.25 2 0.3 3 0.3"/>
<line x1="498.70" y1="412.59" x2="509.06" y2="412.59" stroke="#b4b4b4" stroke-width="1.4" stroke-dasharray="2.3 0.3 1.5 0.25 2 0.3 3 0.3"/>
<line x1="498.70" y1="414.67" x2="504.86" y2="414.67" stroke="#b4b4b4" stroke-width="1.4" stroke-dasharray="2.3 0.3 1.5 0.25 2 0.3 3 0.3"/>
<line x1="498.70" y1="416.75" x2="504.93" y2="416.75" stroke="#b4b4b4" stroke-width="1.4" stroke-dasharray="2.3 0.3 1.5 0.25 2 0.3 3 0.3"/>
<line x1="498.70" y1="418.83" x2="509.79" y2="418.83" stroke="#b4b4b4" stroke-width="1.4" stroke-dasharray="2.3 0.3 1.5 0.25 2 0.3 3 0.3"/>
<line x1="498.70" y1="420.91" x2="509.07" y2="420.91" stroke="#b4b4b4" stroke-width="1.4" stroke-dasharray="2.3 0.3 1.5 0.25 2 0.3 3 0.3"/>
<line x1="498.70" y1="422.99" x2="506.02" y2="422.99" stroke="#b4b4b4" stroke-width="1.4" stroke-dasharray="2.3 0.3 1.5 0.25 2 0.3 3 0.3"/>
<line x1="498.70" y1="425.07" x2="505.12" y2="425.07" stroke="#b4b4b4" stroke-width="1.4" stroke-dasharray="2.3 0.3 1.5 0.25 2 0.3 3 0.3"/>
<line x1="498.70" y1="427.15" x2="505.15" y2="427.15" stroke="#b4b4b4" stroke-width="1.4" stroke-dasharray="2.3 0.3 1.5 0.25 2 0.3 3 0.3"/>
<line x1="498.70" y1="429.24" x2="509.36" y2="429.24" stroke="#b4b4b4" stroke-width="1.4" stroke-dasharray="2.3 0.3 1.5 0.25 2 0.3 3 0.3"/>
<line x1="498.70" y1="431.32" x2="508.95" y2="431.32" stroke="#b4b4b4" stroke-width="1.4" stroke-dasharray="2.3 0.3 1.5 0.25 2 0.3 3 0.3"/>
<line x1="498.70" y1="433.40" x2="509.19" y2="433.40" stroke="#b4b4b4" stroke-width="1.4" stroke-dasharray="2.3 0.3 1.5 0.25 2 0.3 3 0.3"/>
<line x1="498.70" y1="435.48" x2="506.04" y2="435.48" stroke="#b4b4b4" stroke-width="1.4" stroke-dasharray="2.3 0.3 1.5 0.25 2 0.3 3 0.3"/>
<line x1="498.70" y1="437.56" x2="505.95" y2="437.56" stroke="#b4b4b4" stroke-width="1.4" stroke-dasharray="2.3 0.3 1.5 0.25 2 0.3 3 0.3"/>
<path d="M217.6 231.5L217.6 233.6M217.6 231.5L220.7 231.5M217.6 233.6L220.7 233.6M216.5 232.6L216.5 235.7M216.5 232.6L217.6 232.6M216.5 235.7L220.7 235.7M217.4 237.8L217.4 239.9M217.4 237.8L220.7 237.8M217.4 239.9L220.7 239.9M215.3 234.1L215.3 238.8M215.3 234.1L216.5 234.1M215.3 238.8L217.4 238.8M217.6 244.0L217.6 246.1M217.6 244.0L220.7 244.0M217.6 246.1L220.7 246.1M216.8 241.9L216.8 245.1M216.8 241.9L220.7 241.9M216.8 245.1L217.6 245.1M215.8 243.5L215.8 248.2M215.8 243.5L216.8 243.5M215.8 248.2L220.7 248.2M213.5 236.5L213.5 245.8M213.5 236.5L215.3 236.5M213.5 245.8L215.8 245.8M217.5 250.3L217.5 252.4M217.5 250.3L220.7 250.3M217.5 252.4L220.7 252.4M216.5 251.3L216.5 254.4M216.5 251.3L217.5 251.3M216.5 254.4L220.7 254.4M215.9 252.9L215.9 256.5M215.9 252.9L216.5 252.9M215.9 256.5L220.7 256.5M217.9 260.7L217.9 262.8M217.9 260.7L220.7 260.7M217.9 262.8L220.7 262.8M216.3 258.6L216.3 261.7M216.3 258.6L220.7 258.6M216.3 261.7L217.9 261.7M217.6 266.9L217.6 269.0M217.6 266.9L220.7 266.9M217.6 269.0L220.7 269.0M217.5 273.2L217.5 275.2M217.5 273.2L220.7 273.2M217.5 275.2L220.7 275.2M216.6 271.1L216.6 274.2M216.6 271.1L220.7 271.1M216.6 274.2L217.5 274.2M215.2 268.0L215.2 272.6M215.2 268.0L217.6 268.0M215.2 272.6L216.6 272.6M214.6 264.8L214.6 270.3M214.6 264.8L220.7 264.8M214.6 270.3L215.2 270.3M217.3 277.3L217.3 279.4M217.3 277.3L220.7 277.3M217.3 279.4L220.7 279.4M216.2 278.4L216.2 281.5M216.2 278.4L217.3 278.4M216.2 281.5L220.7 281.5M213.6 267.6L213.6 279.9M213.6 267.6L214.6 267.6M213.6 279.9L216.2 279.9M212.9 260.2L212.9 273.7M212.9 260.2L216.3 260.2M212.9 273.7L213.6 273.7M212.3 254.7L212.3 267.0M212.3 254.7L215.9 254.7M212.3 267.0L212.9 267.0M217.9 283.6L217.9 285.6M217.9 283.6L220.7 283.6M217.9 285.6L220.7 285.6M216.4 284.6L216.4 287.7M216.4 284.6L217.9 284.6M216.4 287.7L220.7 287.7M217.9 291.9L217.9 294.0M217.9 291.9L220.7 291.9M217.9 294.0L220.7 294.0M216.9 292.9L216.9 296.1M216.9 292.9L217.9 292.9M216.9 296.1L220.7 296.1M215.7 289.8L215.7 294.5M215.7 289.8L220.7 289.8M215.7 294.5L216.9 294.5M217.3 300.2L217.3 302.3M217.3 300.2L220.7 300.2M217.3 302.3L220.7 302.3M216.7 298.1L216.7 301.3M216.7 298.1L220.7 298.1M216.7 301.3L217.3 301.3M214.5 292.1L214.5 299.7M214.5 292.1L215.7 292.1M214.5 299.7L216.7 299.7M213.4 286.2L213.4 295.9M213.4 286.2L216.4 286.2M213.4 295.9L214.5 295.9M211.2 260.8L211.2 291.0M211.2 260.8L212.3 260.8M211.2 291.0L213.4 291.0M210.3 241.2L210.3 275.9M210.3 241.2L213.5 241.2M210.3 275.9L211.2 275.9M217.9 304.4L217.9 306.5M217.9 304.4L220.7 304.4M217.9 306.5L220.7 306.5M216.7 305.4L216.7 308.5M216.7 305.4L217.9 305.4M216.7 308.5L220.7 308.5M215.5 307.0L215.5 310.6M215.5 307.0L216.7 307.0M215.5 310.6L220.7 310.6M217.8 312.7L217.8 314.8M217.8 312.7L220.7 312.7M217.8 314.8L220.7 314.8M217.8 323.1L217.8 325.2M217.8 323.1L220.7 323.1M217.8 325.2L220.7 325.2M217.6 327.3L217.6 329.3M217.6 327.3L220.7 327.3M217.6 329.3L220.7 329.3M216.1 324.1L216.1 328.3M216.1 324.1L217.8 324.1M216.1 328.3L217.6 328.3M215.1 321.0L215.1 326.2M215.1 321.0L220.7 321.0M215.1 326.2L216.1 326.2M214.5 318.9L214.5 323.6M214.5 318.9L220.7 318.9M214.5 323.6L215.1 323.6M213.9 316.9L213.9 321.3M213.9 316.9L220.7 316.9M213.9 321.3L214.5 321.3M213.3 313.7L213.3 319.1M213.3 313.7L217.8 313.7M213.3 319.1L213.9 319.1M212.7 308.8L212.7 316.4M212.7 308.8L215.5 308.8M212.7 316.4L213.3 316.4M217.3 331.4L217.3 333.5M217.3 331.4L220.7 331.4M217.3 333.5L220.7 333.5M217.8 335.6L217.8 337.7M217.8 335.6L220.7 335.6M217.8 337.7L220.7 337.7M215.9 332.5L215.9 336.6M215.9 332.5L217.3 332.5M215.9 336.6L217.8 336.6M217.6 343.9L217.6 346.0M217.6 343.9L220.7 343.9M217.6 346.0L220.7 346.0M216.9 341.8L216.9 345.0M216.9 341.8L220.7 341.8M216.9 345.0L217.6 345.0M215.8 339.8L215.8 343.4M215.8 339.8L220.7 339.8M215.8 343.4L216.9 343.4M217.9 348.1L217.9 350.2M217.9 348.1L220.7 348.1M217.9 350.2L220.7 350.2M217.5 352.2L217.5 354.3M217.5 352.2L220.7 352.2M217.5 354.3L220.7 354.3M216.0 349.1L216.0 353.3M216.0 349.1L217.9 349.1M216.0 353.3L217.5 353.3M217.5 356.4L217.5 358.5M217.5 356.4L220.7 356.4M217.5 358.5L220.7 358.5M216.8 357.4L216.8 360.6M216.8 357.4L217.5 357.4M216.8 360.6L220.7 360.6M215.8 359.0L215.8 362.6M215.8 359.0L216.8 359.0M215.8 362.6L220.7 362.6M213.9 351.2L213.9 360.8M213.9 351.2L216.0 351.2M213.9 360.8L215.8 360.8M217.8 366.8L217.8 368.9M217.8 366.8L220.7 366.8M217.8 368.9L220.7 368.9M216.8 364.7L216.8 367.8M216.8 364.7L220.7 364.7M216.8 367.8L217.8 367.8M213.0 356.0L213.0 366.3M213.0 356.0L213.9 356.0M213.0 366.3L216.8 366.3M212.3 341.6L212.3 361.1M212.3 341.6L215.8 341.6M212.3 361.1L213.0 361.1M211.7 334.6L211.7 351.4M211.7 334.6L215.9 334.6M211.7 351.4L212.3 351.4M217.3 373.0L217.3 375.1M217.3 373.0L220.7 373.0M217.3 375.1L220.7 375.1M216.5 371.0L216.5 374.1M216.5 371.0L220.7 371.0M216.5 374.1L217.3 374.1M217.9 377.2L217.9 379.3M217.9 377.2L220.7 377.2M217.9 379.3L220.7 379.3M215.6 372.5L215.6 378.3M215.6 372.5L216.5 372.5M215.6 378.3L217.9 378.3M217.8 383.5L217.8 385.5M217.8 383.5L220.7 383.5M217.8 385.5L220.7 385.5M216.3 381.4L216.3 384.5M216.3 381.4L220.7 381.4M216.3 384.5L217.8 384.5M217.6 387.6L217.6 389.7M217.6 387.6L220.7 387.6M217.6 389.7L220.7 389.7M216.3 388.7L216.3 391.8M216.3 388.7L217.6 388.7M216.3 391.8L220.7 391.8M214.5 382.9L214.5 390.2M214.5 382.9L216.3 382.9M214.5 390.2L216.3 390.2M217.6 395.9L217.6 398.0M217.6 395.9L220.7 395.9M217.6 398.0L220.7 398.0M216.5 393.9L216.5 397.0M216.5 393.9L220.7 393.9M216.5 397.0L217.6 397.0M213.7 386.6L213.7 395.4M213.7 386.6L214.5 386.6M213.7 395.4L216.5 395.4M213.0 375.4L213.0 391.0M213.0 375.4L215.6 375.4M213.0 391.0L213.7 391.0M217.9 400.1L217.9 402.2M217.9 400.1L220.7 400.1M217.9 402.2L220.7 402.2M217.8 404.3L217.8 406.3M217.8 404.3L220.7 404.3M217.8 406.3L220.7 406.3M217.8 410.5L217.8 412.6M217.8 410.5L220.7 410.5M217.8 412.6L220.7 412.6M216.6 408.4L216.6 411.5M216.6 408.4L220.7 408.4M216.6 411.5L217.8 411.5M215.0 405.3L215.0 410.0M215.0 405.3L217.8 405.3M215.0 410.0L216.6 410.0M214.4 401.1L214.4 407.6M214.4 401.1L217.9 401.1M214.4 407.6L215.0 407.6M217.5 414.7L217.5 416.7M217.5 414.7L220.7 414.7M217.5 416.7L220.7 416.7M217.5 418.8L217.5 420.9M217.5 418.8L220.7 418.8M217.5 420.9L220.7 420.9M215.6 415.7L215.6 419.9M215.6 415.7L217.5 415.7M215.6 419.9L217.5 419.9M217.3 423.0L217.3 425.1M217.3 423.0L220.7 423.0M217.3 425.1L220.7 425.1M217.6 429.2L217.6 431.3M217.6 429.2L220.7 429.2M217.6 431.3L220.7 431.3M216.4 427.2L216.4 430.3M216.4 427.2L220.7 427.2M216.4 430.3L217.6 430.3M215.4 424.0L215.4 428.7M215.4 424.0L217.3 424.0M215.4 428.7L216.4 428.7M217.6 435.5L217.6 437.6M217.6 435.5L220.7 435.5M217.6 437.6L220.7 437.6M216.7 433.4L216.7 436.5M216.7 433.4L220.7 433.4M216.7 436.5L217.6 436.5M214.4 426.4L214.4 435.0M214.4 426.4L215.4 426.4M214.4 435.0L216.7 435.0M212.8 417.8L212.8 430.7M212.8 417.8L215.6 417.8M212.8 430.7L214.4 430.7M211.8 404.4L211.8 424.2M211.8 404.4L214.4 404.4M211.8 424.2L212.8 424.2M210.8 383.2L210.8 414.3M210.8 383.2L213.0 383.2M210.8 414.3L211.8 414.3M209.0 343.0L209.0 398.8M209.0 343.0L211.7 343.0M209.0 398.8L210.8 398.8M208.4 312.6L208.4 370.9M208.4 312.6L212.7 312.6M208.4 370.9L209.0 370.9M189.3 257.1L189.3 347.5M189.3 257.1L210.3 257.1M189.3 347.5L208.4 347.5" fill="none" stroke="#2e2e2e" stroke-width="0.6"/>
<text x="247.00" y="447.94" font-size="6.5" text-anchor="middle" fill="#2a2a2a" font-weight="normal" font-style="normal">0</text>
<text x="263.40" y="447.94" font-size="6.5" text-anchor="middle" fill="#2a2a2a" font-weight="normal" font-style="normal">20</text>
<text x="283.00" y="447.94" font-size="6.5" text-anchor="middle" fill="#2a2a2a" font-weight="normal" font-style="normal">40</text>
<text x="292.00" y="447.94" font-size="6.5" text-anchor="middle" fill="#2a2a2a" font-weight="normal" font-style="normal">90</text>
<text x="303.60" y="447.94" font-size="6.5" text-anchor="middle" fill="#2a2a2a" font-weight="normal" font-style="normal">200</text>
<text x="316.80" y="447.94" font-size="6.5" text-anchor="middle" fill="#2a2a2a" font-weight="normal" font-style="normal">1</text>
<text x="322.40" y="447.94" font-size="6.5" text-anchor="middle" fill="#2a2a2a" font-weight="normal" font-style="normal">3</text>
<text x="364.80" y="447.94" font-size="6.5" text-anchor="middle" fill="#2a2a2a" font-weight="normal" font-style="normal">19</text>
<text x="380.00" y="447.94" font-size="6.5" text-anchor="middle" fill="#2a2a2a" font-weight="normal" font-style="normal">11</text>
<text x="406.80" y="447.94" font-size="6.5" text-anchor="middle" fill="#2a2a2a" font-weight="normal" font-style="normal">14</text>
<text x="430.60" y="447.94" font-size="6.5" text-anchor="middle" fill="#2a2a2a" font-weight="normal" font-style="normal">17</text>
<text x="444.60" y="447.94" font-size="6.5" text-anchor="middle" fill="#2a2a2a" font-weight="normal" font-style="normal">0</text>
<text x="469.20" y="447.94" font-size="6.5" text-anchor="middle" fill="#2a2a2a" font-weight="normal" font-style="normal">180</text>
<text x="494.60" y="447.94" font-size="6.5" text-anchor="middle" fill="#2a2a2a" font-weight="normal" font-style="normal">360</text>
<text x="265.60" y="463.14" font-size="6.5" text-anchor="middle" fill="#222" font-weight="normal" font-style="normal">Coverage</text>
<text x="404.80" y="462.94" font-size="6.5" text-anchor="middle" fill="#222" font-weight="normal" font-style="normal">tpm</text>
<text x="468.80" y="462.94" font-size="6.5" text-anchor="middle" fill="#222" font-weight="normal" font-style="normal">tpm</text>
<defs><linearGradient id="vg" x1="0" x2="1" y1="0" y2="0"><stop offset="0" stop-color="#fde725"/><stop offset="0.25" stop-color="#5ec962"/><stop offset="0.5" stop-color="#21918c"/><stop offset="0.75" stop-color="#3b528b"/><stop offset="1" stop-color="#440154"/></linearGradient></defs>
<rect x="320.00" y="451.40" width="42.60" height="2.80" fill="url(#vg)"/>
<text x="322.20" y="462.94" font-size="6.5" text-anchor="middle" fill="#222" font-weight="normal" font-style="normal">2</text>
<text x="341.40" y="462.94" font-size="6.5" text-anchor="middle" fill="#222" font-weight="normal" font-style="normal">0</text>
<text x="359.40" y="462.94" font-size="6.5" text-anchor="middle" fill="#222" font-weight="normal" font-style="normal">−2</text>
<text x="342.00" y="471.92" font-size="7" text-anchor="middle" fill="#2a2a2a" font-weight="normal" font-style="normal" transform="translate(342.00 0) scale(0.87 1) translate(-342.00 0)">z-score</text>
<text x="277.40" y="487.90" font-size="6.4" text-anchor="end" fill="#222" font-weight="normal" font-style="normal">main cluster</text>
<rect x="280.70" y="477.50" width="5.40" height="5.30" fill="#dc1f26"/>
<text x="289.50" y="482.50" font-size="6.4" text-anchor="start" fill="#222" font-weight="normal" font-style="normal">multilineage</text>
<rect x="280.70" y="487.30" width="5.40" height="5.30" fill="#2e3f96"/>
<text x="289.50" y="492.30" font-size="6.4" text-anchor="start" fill="#222" font-weight="normal" font-style="normal">lymphoid</text>
<text x="360.20" y="487.90" font-size="6.4" text-anchor="end" fill="#222" font-weight="normal" font-style="normal">subcluster</text>
<rect x="364.20" y="477.80" width="5.30" height="5.20" fill="#f9a01b"/>
<text x="372.80" y="482.60" font-size="6.4" text-anchor="start" fill="#222" font-weight="normal" font-style="normal">delHBS1L</text>
<rect x="364.20" y="488.20" width="5.30" height="5.20" fill="#ffe81a"/>
<text x="372.80" y="493.00" font-size="6.4" text-anchor="start" fill="#222" font-weight="normal" font-style="normal">del7</text>
<rect x="407.40" y="477.80" width="5.30" height="5.20" fill="#b3daee"/>
<text x="416.80" y="482.60" font-size="6.4" text-anchor="start" fill="#222" font-weight="normal" font-style="normal">IKZF1</text>
<rect x="407.40" y="488.20" width="5.30" height="5.20" fill="#3b80c3"/>
<text x="416.80" y="493.00" font-size="6.4" text-anchor="start" fill="#222" font-weight="normal" font-style="normal">CDKN2A/PAX5</text>
<text x="190.40" y="518.36" font-size="11" text-anchor="start" fill="#111" font-weight="bold" font-style="normal" transform="translate(190.40 0) scale(1.1 1) translate(-190.40 0)">D</text>
<text x="317.00" y="516.04" font-size="8.45" text-anchor="middle" fill="#222" font-weight="normal" font-style="normal">chr 6:135,038,201-135,055,000</text>
<rect x="213.40" y="522.40" width="207.80" height="10.20" fill="#c9c9c9"/>
<rect x="213.40" y="522.40" width="207.80" height="1.30" fill="#a9a9a9"/>
<rect x="213.40" y="532.60" width="207.80" height="2.00" fill="#dcdcdc"/>
<line x1="213.40" y1="536.30" x2="421.20" y2="536.30" stroke="#8c8c8c" stroke-width="0.6"/>
<line x1="213.40" y1="539.30" x2="421.20" y2="539.30" stroke="#8c8c8c" stroke-width="0.6"/>
<line x1="213.40" y1="541.30" x2="421.20" y2="541.30" stroke="#8c8c8c" stroke-width="0.6"/>
<line x1="213.40" y1="543.10" x2="421.20" y2="543.10" stroke="#8c8c8c" stroke-width="0.6"/>
<line x1="213.40" y1="548.10" x2="421.20" y2="548.10" stroke="#8c8c8c" stroke-width="0.6"/>
<rect x="392.50" y="537.20" width="19.50" height="2.60" fill="#b2b2b2"/>
<line x1="232.50" y1="522.60" x2="232.50" y2="541.80" stroke="#a9a9a9" stroke-width="1.3"/>
<rect x="231.50" y="547.50" width="2.00" height="1.20" fill="#8a8a8a"/>
<line x1="260.60" y1="522.60" x2="260.60" y2="541.80" stroke="#a9a9a9" stroke-width="1.3"/>
<rect x="259.60" y="547.50" width="2.00" height="1.20" fill="#8a8a8a"/>
<line x1="362.50" y1="522.60" x2="362.50" y2="541.80" stroke="#a9a9a9" stroke-width="1.3"/>
<rect x="361.50" y="547.50" width="2.00" height="1.20" fill="#8a8a8a"/>
<line x1="412.00" y1="522.60" x2="412.00" y2="541.80" stroke="#a9a9a9" stroke-width="1.3"/>
<rect x="411.00" y="547.50" width="2.00" height="1.20" fill="#8a8a8a"/>
<rect x="260.60" y="539.00" width="5.40" height="1.20" fill="#8a8a8a"/>
<path d="M290.5 555.6 H417.5 L420.6 558.8 L417.5 562 H290.5 Z" fill="#f0605f"/>
<path d="M415.8 556.6 L418.2 558.8 L415.8 561" fill="none" stroke="#fff" stroke-width="0.7"/>
<text x="353.00" y="561.39" font-size="7.2" text-anchor="middle" fill="#fff" font-weight="normal" font-style="normal">Deletion</text>
<rect x="213.40" y="563.40" width="207.80" height="0.90" fill="#3a3a3a"/>
<line x1="213.40" y1="565.20" x2="421.20" y2="565.20" stroke="#8c8c8c" stroke-width="0.5"/>
<rect x="213.40" y="565.20" width="19.20" height="27.40" fill="#c9c9c9"/>
<rect x="232.60" y="565.20" width="28.00" height="2.40" fill="#c9c9c9"/>
<rect x="232.60" y="567.60" width="13.40" height="1.40" fill="#d4d4d4"/>
<rect x="260.60" y="565.80" width="7.40" height="2.20" fill="#9a9a9a"/>
<rect x="222.00" y="590.50" width="6.00" height="1.10" fill="#8a8a8a"/>
<rect x="361.50" y="565.60" width="2.00" height="1.20" fill="#8a8a8a"/>
<rect x="411.00" y="565.60" width="2.00" height="1.20" fill="#8a8a8a"/>
<line x1="213.40" y1="597.40" x2="262.00" y2="597.40" stroke="#8c8c8c" stroke-width="0.5"/>
<rect x="231.50" y="596.60" width="2.50" height="1.60" fill="#8a8a8a"/>
<rect x="260.00" y="596.60" width="2.50" height="1.60" fill="#8a8a8a"/>
<line x1="213.40" y1="605.40" x2="421.20" y2="605.40" stroke="#8c8c8c" stroke-width="0.6"/>
<line x1="213.40" y1="608.00" x2="421.20" y2="608.00" stroke="#8c8c8c" stroke-width="0.6"/>
<line x1="213.40" y1="610.20" x2="421.20" y2="610.20" stroke="#8c8c8c" stroke-width="0.6"/>
<line x1="213.40" y1="612.60" x2="421.20" y2="612.60" stroke="#8c8c8c" stroke-width="0.6"/>
<rect x="213.40" y="604.40" width="19.20" height="2.00" fill="#d0d0d0"/>
<rect x="213.40" y="607.20" width="19.20" height="6.20" fill="#d0d0d0"/>
<rect x="232.60" y="604.60" width="11.40" height="1.60" fill="#cfcfcf"/>
<line x1="232.50" y1="603.40" x2="232.50" y2="613.60" stroke="#a9a9a9" stroke-width="1.3"/>
<line x1="260.60" y1="603.40" x2="260.60" y2="613.60" stroke="#a9a9a9" stroke-width="1.3"/>
<rect x="361.70" y="604.90" width="1.60" height="1.00" fill="#8a8a8a"/>
<rect x="361.70" y="607.50" width="1.60" height="1.00" fill="#8a8a8a"/>
<rect x="361.70" y="609.70" width="1.60" height="1.00" fill="#8a8a8a"/>
<rect x="361.70" y="612.10" width="1.60" height="1.00" fill="#8a8a8a"/>
<rect x="411.20" y="604.90" width="1.60" height="1.00" fill="#8a8a8a"/>
<rect x="411.20" y="607.50" width="1.60" height="1.00" fill="#8a8a8a"/>
<rect x="411.20" y="609.70" width="1.60" height="1.00" fill="#8a8a8a"/>
<rect x="411.20" y="612.10" width="1.60" height="1.00" fill="#8a8a8a"/>
<rect x="266.00" y="611.60" width="2.50" height="1.20" fill="#8a8a8a"/>
<rect x="213.40" y="621.60" width="207.80" height="0.90" fill="#3a3a3a"/>
<line x1="215.00" y1="626.30" x2="413.50" y2="626.30" stroke="#2a2b8f" stroke-width="1.7" stroke-dasharray="15.2 1.8"/>
<rect x="231.80" y="624.10" width="1.60" height="4.40" fill="#2a2b8f"/>
<rect x="260.30" y="624.10" width="1.40" height="4.40" fill="#2a2b8f"/>
<rect x="361.80" y="624.10" width="1.40" height="4.40" fill="#2a2b8f"/>
<path d="M412.0 624.0999999999999 L414.7 626.3 L412.0 628.5 Z" fill="#2a2b8f"/>
<rect x="223.00" y="625.20" width="1.20" height="2.20" fill="#2a2b8f"/>
<rect x="240.00" y="625.20" width="1.20" height="2.20" fill="#2a2b8f"/>
<rect x="257.00" y="625.20" width="1.20" height="2.20" fill="#2a2b8f"/>
<rect x="274.00" y="625.20" width="1.20" height="2.20" fill="#2a2b8f"/>
<rect x="291.00" y="625.20" width="1.20" height="2.20" fill="#2a2b8f"/>
<rect x="308.00" y="625.20" width="1.20" height="2.20" fill="#2a2b8f"/>
<rect x="325.00" y="625.20" width="1.20" height="2.20" fill="#2a2b8f"/>
<rect x="342.00" y="625.20" width="1.20" height="2.20" fill="#2a2b8f"/>
<rect x="359.00" y="625.20" width="1.20" height="2.20" fill="#2a2b8f"/>
<rect x="376.00" y="625.20" width="1.20" height="2.20" fill="#2a2b8f"/>
<rect x="393.00" y="625.20" width="1.20" height="2.20" fill="#2a2b8f"/>
<line x1="215.00" y1="636.30" x2="413.50" y2="636.30" stroke="#1d62c4" stroke-width="1.7"/>
<rect x="230.80" y="632.80" width="4.20" height="7.00" fill="#1d62c4"/>
<rect x="260.00" y="632.80" width="3.20" height="7.00" fill="#1d62c4"/>
<rect x="361.50" y="632.80" width="2.10" height="7.00" fill="#1d62c4"/>
<rect x="411.00" y="632.80" width="3.20" height="7.00" fill="#1d62c4"/>
<rect x="223.00" y="635.20" width="1.20" height="2.20" fill="#1d62c4"/>
<rect x="240.00" y="635.20" width="1.20" height="2.20" fill="#1d62c4"/>
<rect x="257.00" y="635.20" width="1.20" height="2.20" fill="#1d62c4"/>
<rect x="274.00" y="635.20" width="1.20" height="2.20" fill="#1d62c4"/>
<rect x="291.00" y="635.20" width="1.20" height="2.20" fill="#1d62c4"/>
<rect x="308.00" y="635.20" width="1.20" height="2.20" fill="#1d62c4"/>
<rect x="325.00" y="635.20" width="1.20" height="2.20" fill="#1d62c4"/>
<rect x="342.00" y="635.20" width="1.20" height="2.20" fill="#1d62c4"/>
<rect x="359.00" y="635.20" width="1.20" height="2.20" fill="#1d62c4"/>
<rect x="376.00" y="635.20" width="1.20" height="2.20" fill="#1d62c4"/>
<rect x="393.00" y="635.20" width="1.20" height="2.20" fill="#1d62c4"/>
<line x1="215.00" y1="648.30" x2="413.50" y2="648.30" stroke="#19a3c6" stroke-width="1.7"/>
<rect x="230.80" y="645.00" width="4.20" height="6.60" fill="#19a3c6"/>
<rect x="260.00" y="645.00" width="3.20" height="6.60" fill="#19a3c6"/>
<rect x="361.50" y="645.00" width="2.10" height="6.60" fill="#19a3c6"/>
<rect x="411.00" y="645.00" width="3.20" height="6.60" fill="#19a3c6"/>
<rect x="223.00" y="647.20" width="1.20" height="2.20" fill="#19a3c6"/>
<rect x="240.00" y="647.20" width="1.20" height="2.20" fill="#19a3c6"/>
<rect x="257.00" y="647.20" width="1.20" height="2.20" fill="#19a3c6"/>
<rect x="274.00" y="647.20" width="1.20" height="2.20" fill="#19a3c6"/>
<rect x="291.00" y="647.20" width="1.20" height="2.20" fill="#19a3c6"/>
<rect x="308.00" y="647.20" width="1.20" height="2.20" fill="#19a3c6"/>
<rect x="325.00" y="647.20" width="1.20" height="2.20" fill="#19a3c6"/>
<rect x="342.00" y="647.20" width="1.20" height="2.20" fill="#19a3c6"/>
<rect x="359.00" y="647.20" width="1.20" height="2.20" fill="#19a3c6"/>
<rect x="376.00" y="647.20" width="1.20" height="2.20" fill="#19a3c6"/>
<rect x="393.00" y="647.20" width="1.20" height="2.20" fill="#19a3c6"/>
<rect x="242.10" y="653.80" width="0.80" height="5.60" fill="#e0607a"/>
<line x1="214.50" y1="665.00" x2="231.00" y2="665.00" stroke="#f47c20" stroke-width="1.3"/>
<rect x="230.80" y="661.80" width="4.20" height="6.50" fill="#f47c20"/>
<rect x="218.00" y="664.00" width="1.00" height="2.00" fill="#f47c20"/>
<rect x="223.00" y="664.00" width="1.00" height="2.00" fill="#f47c20"/>
<rect x="227.00" y="664.00" width="1.00" height="2.00" fill="#f47c20"/>
<line x1="214.50" y1="676.80" x2="238.50" y2="676.80" stroke="#c4521c" stroke-width="1.3"/>
<rect x="230.80" y="673.30" width="4.20" height="7.20" fill="#c4521c"/>
<rect x="238.30" y="673.30" width="4.30" height="7.20" fill="#c4521c"/>
<rect x="218.00" y="675.80" width="1.00" height="2.00" fill="#c4521c"/>
<rect x="223.00" y="675.80" width="1.00" height="2.00" fill="#c4521c"/>
<rect x="227.00" y="675.80" width="1.00" height="2.00" fill="#c4521c"/>
<rect x="213.4" y="522" width="207.79999999999998" height="160.5" fill="none" stroke="#2a2a2a" stroke-width="0.9"/>
<text x="424.30" y="529.14" font-size="6.5" text-anchor="start" fill="#222" font-weight="normal" font-style="normal" transform="translate(424.30 0) scale(0.975 1) translate(-424.30 0)">J33012</text>
<text x="424.30" y="537.24" font-size="6.5" text-anchor="start" fill="#222" font-weight="normal" font-style="normal" transform="translate(424.30 0) scale(1.0 1) translate(-424.30 0)">lymphoid lineage</text>
<text x="424.30" y="545.64" font-size="6.5" text-anchor="start" fill="#222" font-weight="normal" font-style="normal" transform="translate(424.30 0) scale(1.0 1) translate(-424.30 0)">IKZF1 subcluster</text>
<text x="424.30" y="572.34" font-size="6.5" text-anchor="start" fill="#222" font-weight="normal" font-style="normal" transform="translate(424.30 0) scale(0.975 1) translate(-424.30 0)">J35913</text>
<text x="424.30" y="578.74" font-size="6.5" text-anchor="start" fill="#222" font-weight="normal" font-style="normal" transform="translate(424.30 0) scale(1.0 1) translate(-424.30 0)">multilineage</text>
<text x="424.30" y="585.34" font-size="6.5" text-anchor="start" fill="#222" font-weight="normal" font-style="normal" transform="translate(424.30 0) scale(0.955 1) translate(-424.30 0)">delHBS1L subcluster</text>
<text x="424.30" y="629.94" font-size="6.5" text-anchor="start" fill="#222" font-weight="normal" font-style="normal" transform="translate(424.30 0) scale(0.955 1) translate(-424.30 0)">ENST00000367837</text>
<text x="424.30" y="638.64" font-size="6.5" text-anchor="start" fill="#222" font-weight="normal" font-style="normal" transform="translate(424.30 0) scale(0.955 1) translate(-424.30 0)">ENST00000415177</text>
<text x="424.30" y="650.64" font-size="6.5" text-anchor="start" fill="#222" font-weight="normal" font-style="normal" transform="translate(424.30 0) scale(0.955 1) translate(-424.30 0)">ENST00000367822</text>
<text x="424.30" y="660.34" font-size="6.5" text-anchor="start" fill="#222" font-weight="normal" font-style="normal" transform="translate(424.30 0) scale(1.0 1) translate(-424.30 0)">Alternative promoter pred.</text>
<text x="424.30" y="670.04" font-size="6.5" text-anchor="start" fill="#222" font-weight="normal" font-style="normal" transform="translate(424.30 0) scale(1.0 1) translate(-424.30 0)">Alternative transcript (TIS)</text>
<text x="424.30" y="679.84" font-size="6.5" text-anchor="start" fill="#222" font-weight="normal" font-style="normal" transform="translate(424.30 0) scale(1.0 1) translate(-424.30 0)">Alternative transcript (TSS)</text>
</svg>
<div id="frame"></div>
</body></html>
